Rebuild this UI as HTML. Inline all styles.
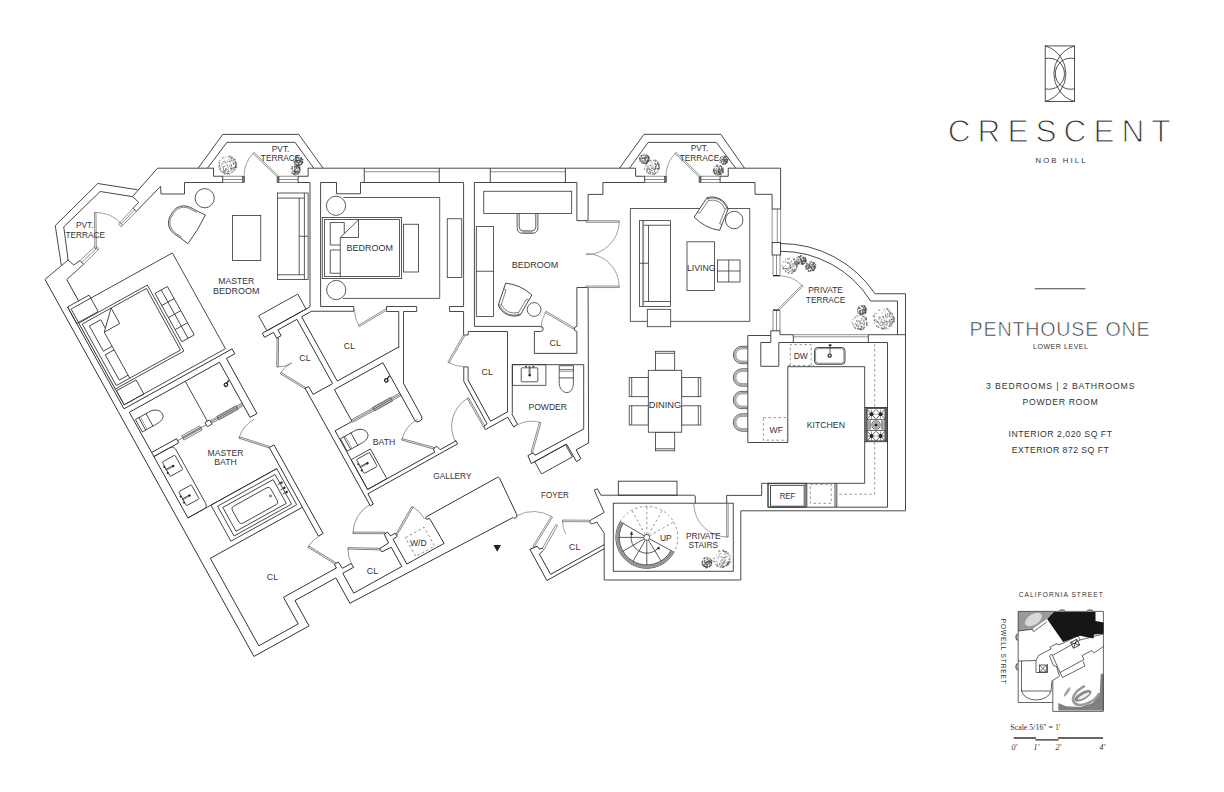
<!DOCTYPE html>
<html><head><meta charset="utf-8"><title>Crescent Nob Hill - Penthouse One</title>
<style>
html,body{margin:0;padding:0;background:#fff}
body{width:1224px;height:792px;overflow:hidden;position:relative;font-family:"Liberation Sans",sans-serif}
svg{position:absolute;left:0;top:0;display:block}
.w{fill:none;stroke:#303030;stroke-width:.88;stroke-linejoin:miter}
.wf{fill:#fff;stroke:#303030;stroke-width:.88}
.f{fill:none;stroke:#333;stroke-width:.8}
.ff{fill:#fff;stroke:#333;stroke-width:.8}
.n{fill:none;stroke:#444;stroke-width:.6}
.a{fill:none;stroke:#555;stroke-width:.55}
.d{fill:#fff;stroke:#444;stroke-width:.6}
.ds{fill:none;stroke:#777;stroke-width:.75;stroke-dasharray:2.6 2.4}
.k{fill:#222;stroke:none}
.t{font-family:"Liberation Sans",sans-serif;fill:#333}
.ts{font-family:"Liberation Serif",serif;fill:#333}
.tr{fill:#777;stroke:none}
</style></head><body>
<svg width="1224" height="792" viewBox="0 0 1224 792">
<g id="plan">
<g transform="translate(45,279.5) rotate(-29)"><polyline class="w" points="0,0 0,431 63,431 63,402 109.7,402 109.7,431"/>
<polyline class="w" points="19,10.6 19,35"/>
<polyline class="w" points="6.4,35 6.4,151.4"/>
<rect class="f" x="8.5" y="38.5" width="115.8" height="109.5"/>
<rect class="f" x="6.4" y="35" width="24.6" height="18.8"/>
<rect class="f" x="8.5" y="132" width="22.5" height="16"/>
<rect class="ff" x="8.4" y="54.5" width="78.4" height="75.4"/>
<rect class="f" x="11" y="57" width="73.3" height="70.4"/>
<polyline class="f" points="16.3,91 16.3,62.2 29.2,62.2 29.2,72"/>
<polyline class="f" points="16.3,91 26.3,91"/>
<polyline class="f" points="26.3,95 16.2,95 16.2,124 26.3,124"/>
<polyline class="f" points="26.3,127.4 26.3,74.8 44,74.8 44,57 26.3,74.8"/>
<rect class="ff" x="89.5" y="65.5" width="14.2" height="55.3"/>
<polyline class="f" points="96.6,65.5 96.6,120.8"/>
<polyline class="f" points="89.5,79.32 103.7,79.32"/>
<polyline class="f" points="89.5,93.14 103.7,93.14"/>
<polyline class="f" points="89.5,106.96 103.7,106.96"/>
<polyline class="w" points="6.4,151.4 130,151.4 130,157 120.4,157"/>
<polyline class="w" points="112.5,157 9.4,157"/>
<polyline class="w" points="112.5,157 112.5,220 120.4,220 120.4,157"/>
<polyline class="w" points="9.4,157 9.4,277.8"/>
<polyline class="w" points="9.4,324 9.4,424"/>
<polyline class="w" points="9.4,203 37.9,203 37.9,207.7 9.4,207.7"/>
<polyline class="n" points="37.9,205.3 70.6,205.3"/>
<rect class="n" x="43.7" y="203" width="20.7" height="4.8"/>
<polyline class="n" points="43.7,204.6 64.4,204.6"/>
<polyline class="n" points="43.7,206.2 64.4,206.2"/>
<rect class="f" x="70.6" y="202.6" width="5.4" height="4.9"/>
<polyline class="f" points="73.3,157 73.3,202.6"/>
<polyline class="n" points="76,203.7 112.5,203.7"/>
<polyline class="n" points="76,205.1 112.5,205.1"/>
<polyline class="n" points="76,206.5 112.5,206.5"/>
<rect class="n" x="84" y="203" width="22" height="4.2"/>
<polyline class="n" points="84,205.05 106,205.05"/>
<circle cx="107.2" cy="179.7" r="1.7" fill="#fff" stroke="#222" stroke-width="1.3"/><path d="M108.6,178.8 L112,177.3" stroke="#222" stroke-width="1.2" fill="none"/>
<rect class="ff" x="11.2" y="166.3" width="5.8" height="14.2"/>
<polyline class="f" points="15.1,166.3 15.1,180.5"/>
<path class="ff" d="M17.0,166.3 L26.2,166.3 C33.2,165.8 37.599999999999994,169.9 37.599999999999994,174.4 C37.599999999999994,178.4 33.2,180.70000000000002 26.2,180.5 L17.0,180.5"/>
<polyline class="f" points="23.3,166.3 23.3,180.5"/>
<path class="f" d="M9.4,207.6 L28,207.6 Q32,207.6 32,211.6 L32,273.8 Q32,277.8 28,277.8 L9.4,277.8"/>
<polyline class="f" points="9.4,277.8 111,277.8"/>
<rect class="f" x="14" y="216.5" width="14.5" height="16.5" rx="1"/>
<polyline class="f" points="13,224.75 21.75,224.75"/>
<polyline class="n" points="13,225.75 21.75,225.75"/>
<circle class="k" cx="21.75" cy="225.25" r="1.2"/>
<circle class="k" cx="13.5" cy="221.75" r="1"/>
<circle class="k" cx="13.5" cy="228.75" r="1"/>
<rect class="f" x="14" y="250.5" width="14.5" height="16" rx="1"/>
<polyline class="f" points="13,258.5 21.75,258.5"/>
<polyline class="n" points="13,259.5 21.75,259.5"/>
<circle class="k" cx="21.75" cy="259" r="1.2"/>
<circle class="k" cx="13.5" cy="255.5" r="1"/>
<circle class="k" cx="13.5" cy="262.5" r="1"/>
<rect class="f" x="35.7" y="277.8" width="75.3" height="41.2"/>
<rect class="f" x="41" y="282" width="65.7" height="34"/>
<rect class="f" x="45" y="285.6" width="57.5" height="27.2"/>
<rect class="f" x="52" y="289.7" width="44" height="19.3" rx="3"/>
<circle class="f" cx="92.3" cy="298.6" r="1"/>
<circle class="k" cx="108.4" cy="292.3" r="1.2"/>
<polyline class="f" points="104,292.3 108,292.3"/>
<circle class="k" cx="108.4" cy="298.2" r="1.2"/>
<polyline class="f" points="104,298.2 108,298.2"/>
<circle class="k" cx="108.4" cy="303" r="1.2"/>
<polyline class="f" points="104,303 108,303"/>
<polyline class="w" points="114.7,357 114.7,255.7 120.1,255.7 120.1,357 114.7,357"/>
<path class="a" d="M93.2,232.3 A31.77,31.77 0 0 1 114.9,223.73"/>
<polygon class="d" points="115.45,254.99 93.75,231.79 92.65,232.81 114.35,256.01"/>
<polyline class="w" points="9.4,324 114.7,324"/>
<polyline class="w" points="115,389.3 115,393.6 54.5,393.6 54.5,424 9.4,424"/>
<polyline class="w" points="115,389.3 119.5,389.3 120.1,396.8 129.9,396.8 130.6,401.3 118,401.3 118,424 173,424 173,402 162.6,401.6 162.1,397.6 172.7,397 173.3,387.4 177.2,387 177.8,391.7 183.2,391.7 183.6,395.4 178.5,396 178.5,424.3 221.2,424.3 220.5,396.3"/>
<path class="a" d="M100.8,361.3 A32.15,32.15 0 0 1 116.6,357.15"/>
<polygon class="d" points="117.25,388.93 101.45,360.93 100.15,361.67 115.95,389.67"/>
<path class="a" d="M134.6,382 A32,32 0 0 0 130.2,398.2"/>
<polygon class="d" points="162.58,397.55 134.98,381.35 134.22,382.65 161.82,398.85"/>
<path class="a" d="M146.6,370.9 A32.1,32.1 0 0 1 174.6,354.5"/>
<polygon class="d" points="174.97,385.95 146.97,370.25 146.23,371.55 174.23,387.25"/>
<path class="a" d="M211.3,376.9 A31.9,31.9 0 0 1 215.9,393.4"/>
<polygon class="d" points="184.39,394.04 211.69,377.54 210.91,376.26 183.61,392.76"/>
<rect class="ds" x="190" y="400.5" width="21.5" height="21.5"/>
<path class="w" d="M220.5,396.3 L220.5,395.3 Q217.2,395.5 217.2,393.8 Q217.2,392.2 219.5,392.4 L299.5,392.4 Q301.3,392.4 301.2,394 L298.6,434.5 Q298.3,437.2 295.5,436.6 Q293.8,436.2 294,435.1"/>
<polyline class="w" points="109.7,431 294,435.1"/>
<polyline class="w" points="218.3,152.4 164,152.4 164,157 174.2,157 174.2,163.6 179.3,163.6 179.3,157 201,157"/>
<polyline class="w" points="206.4,157 217.6,157"/>
<rect class="f" x="169.2" y="135.3" width="44.8" height="17.1"/>
<polyline class="w" points="201,157 201,230.5"/>
<polyline class="w" points="206.4,157 206.4,230.5"/>
<path class="a" d="M161,189.2 A28.97,28.97 0 0 0 175.3,192.97"/>
<polygon class="d" points="174.65,163.63 160.35,188.83 161.65,189.57 175.95,164.37"/>
<path class="a" d="M160.7,196.1 A28.89,28.89 0 0 1 175,192.31"/>
<polygon class="d" points="175.65,220.83 161.35,195.73 160.05,196.47 174.35,221.57"/>
<polyline class="w" points="174.8,355.6 174.8,221 178.7,221.6 178.8,230.5 201,230.5"/>
<polyline class="w" points="206.4,230.5 276.6,230.5"/>
<polyline class="w" points="174.8,355.6 178.3,355.6 178.5,344"/>
<polyline class="w" points="180.4,273 199.7,273 199.7,236.6 255.2,236.6 255.2,303"/>
<path class="w" d="M255.2,303 Q255.4,305.6 259,305.6 Q262.8,305.6 263,303 L263.2,264.4"/>
<polyline class="n" points="199.7,271.3 255.2,271.3"/>
<polyline class="n" points="199.7,272.7 255.2,272.7"/>
<polyline class="n" points="199.7,274.1 255.2,274.1"/>
<rect class="n" x="224.5" y="270.6" width="20.5" height="4.2"/>
<polyline class="n" points="224.5,272.7 245,272.7"/>
<circle cx="249.6" cy="253.7" r="1.7" fill="#fff" stroke="#222" stroke-width="1.3"/><path d="M251,252.8 L254.6,251.3" stroke="#222" stroke-width="1.2" fill="none"/>
<polyline class="w" points="180.4,273 180.4,340 257.2,340 257.4,336.2 261.9,335.9 263,340.4 280,340.4 281.2,339.6 281.2,343.8 178.6,344"/>
<rect class="ff" x="181.1" y="282.5" width="5.8" height="14.2"/>
<polyline class="f" points="185,282.5 185,296.7"/>
<path class="ff" d="M186.9,282.5 L196.1,282.5 C203.1,282.0 207.5,286.1 207.5,290.6 C207.5,294.6 203.1,296.90000000000003 196.1,296.70000000000005 L186.9,296.70000000000005"/>
<polyline class="f" points="193.2,282.5 193.2,296.7"/>
<rect class="f" x="180.4" y="306" width="22" height="34"/>
<rect class="f" x="185" y="308.5" width="15" height="16" rx="1"/>
<polyline class="f" points="184,316.5 193,316.5"/>
<polyline class="n" points="184,317.5 193,317.5"/>
<circle class="k" cx="193" cy="317" r="1.2"/>
<circle class="k" cx="184.5" cy="313.5" r="1"/>
<circle class="k" cx="184.5" cy="320.5" r="1"/>
<path class="a" d="M234.6,312.8 A33.66,33.66 0 0 1 258.6,302.74"/>
<polygon class="d" points="259.13,335.87 235.13,312.27 234.07,313.33 258.07,336.93"/>
<path class="a" d="M312.4,308.8 A32.5,32.5 0 0 0 280.4,341.3"/>
<polygon class="d" points="313.65,341.29 313.15,308.79 311.65,308.81 312.15,341.31"/>
<polyline class="w" points="316.9,292 316.7,340.5 312.4,341.4 312.4,344.8 337.9,344.8 338.4,356.3 343.1,355.6 343.2,344.2 343.8,343.6"/>
<polyline class="w" points="321.3,293 321,340 340.4,340"/>
<polyline class="w" points="398.6,391.9 343.5,391.3 343,388.1 337,388.2 336,396.7 376.3,396.8 376.6,417 381.8,416.5 382,406.5 396.2,406.5"/>
<rect class="f" x="340" y="396.8" width="35.2" height="14"/>
<polyline class="w" points="360.55,503 299.3,503 299.3,479.8 304.4,478.7"/>
<polyline class="w" points="358.55,506.6 293,506.6 293.3,471 301.2,472 301.6,475.4 305.2,476.2"/></g>
<polyline class="w" points="61.25,265 55.25,225.6 97.75,183.5 137.5,189.75"/>
<polyline class="w" points="68.1,260 63.75,226.9 100.2,191.5 132.5,196.6"/>
<polyline class="w" points="45,279.4 68.1,260 73.75,265 80,260.6"/>
<polyline class="w" points="83.5,264.4 66.9,279.4"/>
<polyline class="w" points="80,260.6 83.5,264.4"/>
<polyline class="n" points="80,260.6 94.4,247"/>
<polyline class="n" points="81.75,262.5 96.2,248.6"/>
<polyline class="n" points="83.5,264.4 98.1,250"/>
<polygon class="n" points="94.4,247 98.1,250 98.6,248.4 95.6,245.8"/>
<path class="a" d="M95.2,212.5 A36,36 0 0 1 121.11,223.09"/>
<polygon class="d" points="96.35,248.49 95.95,212.49 94.45,212.51 94.85,248.51"/>
<polygon class="n" points="120,222.5 122.5,225.6 121,226.8 118.6,223.8"/>
<polyline class="n" points="120,222.5 133.1,208.1"/>
<polyline class="n" points="121.25,224 134.7,209.85"/>
<polyline class="n" points="122.5,225.6 136.25,211.6"/>
<polyline class="w" points="132.5,196.6 138.75,202.25 133.1,208.1 136.25,211.6 160.6,186.25 161,194 184.5,194 184.5,182.5 223,182.5"/>
<polyline class="w" points="132.5,196.6 157.5,168.2 213.5,168.2 213.5,176.25 223,176.25"/>
<polyline class="w" points="619.5,168.2 644,134.3 720.75,134.3 744.5,168.2"/>
<polyline class="w" points="629.5,168.2 648.2,142.4 716.3,142.4 735.75,168.2"/>
<polyline class="w" points="644.7,176.25 644.7,182.5"/>
<polyline class="n" points="644.7,176.25 664.5,176.25"/>
<polyline class="n" points="644.7,179.5 664.5,179.5"/>
<polyline class="n" points="644.7,182.5 664.5,182.5"/>
<rect x="664.5" y="176.25" width="1.9" height="6.25" fill="#777" stroke="#333" stroke-width=".6"/>
<rect x="699.1" y="176.25" width="1.9" height="6.25" fill="#777" stroke="#333" stroke-width=".6"/>
<polyline class="n" points="701,176.25 720.1,176.25"/>
<polyline class="n" points="701,179.5 720.1,179.5"/>
<polyline class="n" points="701,182.5 720.1,182.5"/>
<polyline class="w" points="720.1,176.25 720.1,182.5"/>
<path class="a" d="M675.5,152.9 A33.95,33.95 0 0 0 665.95,176.5"/>
<polygon class="d" points="700.42,175.96 676.02,152.36 674.98,153.44 699.38,177.04"/>
<polyline class="w" points="198.1,168.2 222.75,134.4 298.75,134.4 323.1,168.2"/>
<polyline class="w" points="207.5,168.2 227,142.3 295,142.3 313.75,168.2"/>
<polyline class="w" points="222.7,176.25 222.7,182.5"/>
<polyline class="n" points="222.7,176.25 242.5,176.25"/>
<polyline class="n" points="222.7,179.5 242.5,179.5"/>
<polyline class="n" points="222.7,182.5 242.5,182.5"/>
<rect x="242.5" y="176.25" width="1.9" height="6.25" fill="#777" stroke="#333" stroke-width=".6"/>
<rect x="277.1" y="176.25" width="1.9" height="6.25" fill="#777" stroke="#333" stroke-width=".6"/>
<polyline class="n" points="279,176.25 298.1,176.25"/>
<polyline class="n" points="279,179.5 298.1,179.5"/>
<polyline class="n" points="279,182.5 298.1,182.5"/>
<polyline class="w" points="298.1,176.25 298.1,182.5"/>
<path class="a" d="M253.5,152.9 A33.95,33.95 0 0 0 243.95,176.5"/>
<polygon class="d" points="278.42,175.96 254.02,152.36 252.98,153.44 277.38,177.04"/>
<polyline class="w" points="298.1,176.25 308.1,176.25 308.1,168.2 635.6,168.2 635.6,176.25 644.7,176.25"/>
<polyline class="w" points="298.1,182.5 310,182.5 310,306.9"/>
<polyline class="w" points="320.6,306.5 320.6,182.5 336.5,182.5 336.5,193.75 360.5,193.75 360.5,182.5 463.6,182.5 463.6,306.5 449.6,306.5 449.6,311.5 463.6,311.5 463.6,335 468.2,335 468.2,331.5 507.5,331.5 507.5,412"/>
<polyline class="w" points="364.25,168.2 364.25,182.5"/>
<polyline class="w" points="439.25,168.2 439.25,182.5"/>
<polyline class="n" points="364.25,171.75 439.25,171.75"/>
<polyline class="w" points="490.25,168.2 490.25,182.5"/>
<polyline class="w" points="565.4,168.2 565.4,182.5"/>
<polyline class="n" points="490.25,171.75 565.4,171.75"/>
<polyline class="w" points="540.6,326.4 474.4,326.4 474.4,182.5 576.9,182.5 576.9,220.6 588.1,220.6 588.1,194.4 602.9,194.4 602.9,182.5 644.7,182.5"/>
<path class="w" d="M540.6,326.4 Q543.2,326.4 543.2,329 Q543.2,331.5 540.6,331.5 L534.4,331.5 L534.4,353.4 L576.9,353.4 L576.9,331.3"/>
<path class="w" d="M576.9,287.5 L576.9,326.4 Q574.2,326.6 574.2,329 Q574.2,331.3 576.9,331.3"/>
<polyline class="w" points="576.9,287.5 588.1,287.5"/>
<polyline class="w" points="588.1,287.5 588.6,443"/>
<polyline class="w" points="320.6,306.5 353.75,306.5 353.75,311.25 311.25,311.25"/>
<polyline class="w" points="398.75,311.5 386.5,311.5 386.5,306.5 416.7,306.5 416.7,311.5 403.5,311.5"/>
<polyline class="w" points="398.75,311.5 398.75,348.1"/>
<polyline class="w" points="403.5,311.5 403.5,383.1"/>
<path class="a" d="M359,325.9 A31.85,31.85 0 0 1 354.45,309.5"/>
<polygon class="d" points="385.91,308.86 358.61,325.26 359.39,326.54 386.69,310.14"/>
<path class="a" d="M619.2,221.5 A33.2,33.2 0 0 1 586,254.7"/>
<polygon class="d" points="586,222.25 619.2,222.25 619.2,220.75 586,220.75"/>
<path class="a" d="M619.2,286.8 A33.2,33.2 0 0 0 586,253.6"/>
<polygon class="d" points="586,287.55 619.2,287.55 619.2,286.05 586,286.05"/>
<path class="a" d="M545.6,311.9 A32.45,32.45 0 0 0 541.15,328.3"/>
<polygon class="d" points="573.98,327.65 545.98,311.25 545.22,312.55 573.22,328.95"/>
<polyline class="w" points="720.1,176.25 728.25,176.25 728.25,168.2 780.6,168.2 780.6,209"/>
<polyline class="w" points="720.1,182.5 755,182.5 755,194.3 772.1,194.3 772.1,209 780.6,209"/>
<polyline class="n" points="772.1,209 772.1,242.5"/>
<polyline class="n" points="777.3,209 777.3,242.5"/>
<polyline class="n" points="780.6,209 780.6,242.5"/>
<rect class="w" x="772.1" y="242.5" width="8.5" height="12.5"/>
<polyline class="n" points="773,255 773,275"/>
<polyline class="n" points="776.5,255 776.5,275"/>
<polyline class="n" points="780,255 780,275"/>
<rect class="k" x="773" y="275" width="7" height="1.3"/>
<rect class="k" x="773" y="309.4" width="7" height="1.4"/>
<polyline class="n" points="773,310.8 773,330.8"/>
<polyline class="n" points="776.5,310.8 776.5,330.8"/>
<polyline class="n" points="780,310.8 780,330.8"/>
<path class="a" d="M802.5,285.6 A33.87,33.87 0 0 0 778.6,275.73"/>
<polygon class="d" points="779.13,310.13 803.03,286.13 801.97,285.07 778.07,309.07"/>
<path class="w" d="M780.6,243.5 A114,114 0 0 1 875,293.75 L905.5,293.75 L905.5,510.8 L740.8,510.8 L740.8,580 L604.2,580 L604.2,533.3"/>
<path class="w" d="M780.6,251.25 A106.3,106.3 0 0 1 870.6,301 L897.5,301 L897.5,334.7"/>
<polyline class="w" points="747.8,442.5 747.8,335.5 770.8,335.5 770.8,330.8 780,330.8 780,334.7 793.3,334.7"/>
<polyline class="w" points="770.8,335.5 770.8,342.5 760.8,342.5 760.8,366.3 778.8,366.3 778.8,342.5 887.5,342.5 887.5,507.2 768,507.2 768,483.3"/>
<polyline class="w" points="793.3,334.7 793.3,342.5"/>
<polyline class="w" points="868.3,334.7 868.3,342.5"/>
<polyline class="n" points="793.3,334.7 868.3,334.7"/>
<polyline class="n" points="793.3,336.8 868.3,336.8"/>
<polyline class="w" points="868.3,334.7 905.5,334.7"/>
<polyline class="w" points="747.8,442.5 787.8,442.5 787.8,366.7 864.7,366.7 864.7,407.5"/>
<polyline class="w" points="864.7,441.7 864.7,483.3 761.7,483.3 761.7,495.4 728.3,495.4"/>
<rect class="w" x="613.3" y="503.2" width="119.95" height="68.05"/>
<path class="w" d="M600.8,495.2 L693.5,495.2 Q695.3,495.2 695.3,497 L695.3,503.2"/>
<polyline class="w" points="728.3,495.4 726.7,495.4 726.7,503.2"/>
<rect class="w" x="618.3" y="481.2" width="58.7" height="14"/>
<path class="a" d="M727.4,537 A33.6,33.6 0 0 1 693.8,503.4"/>
<polygon class="d" points="726.65,503.4 726.65,537 728.15,537 728.15,503.4"/>
<polyline class="w" points="590.8,520 604.2,512.5 594.2,490 597.5,488.8 600.8,495.2"/>
<path class="w" d="M590.8,520 Q588.9,521.2 590,522.9 Q591.2,524.4 592.9,523.6 L596.7,522 L604.2,533.3"/>
<polyline class="w" points="463.75,366.9 468.1,366.9"/>
<polyline class="w" points="463.75,366.9 463.75,381.25"/>
<polyline class="w" points="468.1,366.9 468.1,380"/>
<path class="a" d="M448.5,362.5 A31.22,31.22 0 0 0 464,366.62"/>
<polygon class="d" points="463.35,335.03 447.85,362.13 449.15,362.87 464.65,335.77"/>
<polyline class="w" points="512.3,413.3 512.3,364.7 583.7,364.7 583.7,429.2"/>
<rect class="f" x="512.3" y="364.7" width="33.6" height="20.6"/>
<rect class="f" x="521.2" y="367.8" width="16.6" height="14" rx="0.8"/>
<polyline class="f" points="529.2,366 529.2,375"/>
<polyline class="n" points="530.2,366 530.2,375"/>
<circle class="k" cx="529.7" cy="375.2" r="1.2"/>
<circle class="k" cx="526" cy="366.6" r="0.9"/>
<circle class="k" cx="533.4" cy="366.6" r="0.9"/>
<rect class="ff" x="559.2" y="365.8" width="14.2" height="5.8"/>
<polyline class="f" points="559.2,369.7 573.4,369.7"/>
<path class="ff" d="M559.2,371.6 L559.2,381 C558.7,388 562.5,392.6 566.8,392.6 C571,392.6 573.9,388 573.4,381 L573.4,371.6"/>
<polyline class="f" points="559.2,377.9 573.4,377.9"/>
<path class="a" d="M540.2,422.4 A31.06,31.06 0 0 0 517.13,424.92"/>
<polygon class="d" points="532.52,452.5 540.92,422.6 539.48,422.2 531.08,452.1"/>
<path class="a" d="M551.9,516.7 A35.19,35.19 0 0 0 517.1,515.56"/>
<polygon class="d" points="534.14,547.09 552.54,517.09 551.26,516.31 532.86,546.31"/>
<path class="a" d="M562.5,520.8 A27.7,27.7 0 0 0 565.84,534.18"/>
<polygon class="d" points="590.21,520.25 562.51,520.05 562.49,521.55 590.19,521.75"/>
<polygon class="d" points="543.99,549.71 557.55,525.5 555.81,524.53 542.25,548.74"/>
<polygon class="k" points="493.4,545 501,545 497.2,551.8"/>
<polyline class="f" points="343.5,197.5 439.7,197.5 439.7,298.4 343,298.4"/>
<circle class="ff" cx="336" cy="205.75" r="9.6"/>
<circle class="ff" cx="336.25" cy="290" r="9.6"/>
<rect class="ff" x="322.25" y="217.5" width="79.35" height="61.1"/>
<rect class="f" x="324.4" y="219.6" width="75.1" height="56.9"/>
<polyline class="f" points="330.25,245 330.25,222.5 344.25,222.5 344.25,233.7"/>
<polyline class="f" points="330.25,245 340.25,245"/>
<polyline class="f" points="340.25,250 330.25,250 330.25,273.25 340.25,273.25"/>
<polyline class="f" points="340.25,277.2 340.25,237.5 358.5,237.5 358.5,220 340.25,237.5"/>
<rect class="f" x="403.5" y="224.25" width="15" height="47.75"/>
<rect class="f" x="447.25" y="218.75" width="14.5" height="58.75"/>
<rect class="f" x="483.75" y="191.25" width="87.95" height="22.15"/>
<path class="f" d="M517.1,213.4 L517.1,227.5 Q517.1,233.3 523,233.3 L532,233.3 Q537.9,233.3 537.9,227.5 L537.9,213.4"/>
<path class="f" d="M519.2,213.4 L519.2,227 Q519.2,230.9 523.2,230.9 L531.8,230.9 Q535.8,230.9 535.8,227 L535.8,213.4"/>
<polyline class="n" points="522,232.1 533,232.1"/>
<rect class="f" x="476.3" y="226.5" width="17.1" height="89.9"/>
<polyline class="f" points="476.3,271.25 493.4,271.25"/>
<circle class="f" cx="534.1" cy="309.5" r="6.9"/>
<rect class="f" x="277.5" y="193" width="30.6" height="86.4"/>
<polyline class="f" points="277.5,198.1 304.4,198.1"/>
<polyline class="f" points="277.5,274.75 304.4,274.75"/>
<polyline class="f" points="299.2,198.1 299.2,274.75"/>
<polyline class="f" points="304.4,193 304.4,279.4"/>
<polyline class="f" points="299.2,236.25 308.1,236.25"/>
<rect class="f" x="232.5" y="215.5" width="28.25" height="45"/>
<circle class="f" cx="204.7" cy="198.2" r="9.6"/>
<rect class="f" x="630.3" y="208.6" width="119.5" height="112.7"/>
<rect class="f" x="687" y="241.8" width="27.6" height="48.7"/>
<rect class="f" x="717.5" y="260" width="22.5" height="22"/>
<polyline class="f" points="728.75,260 728.75,282"/>
<polyline class="f" points="717.5,271 740,271"/>
<circle class="ff" cx="734.2" cy="220" r="8.75"/>
<rect class="f" x="655.5" y="351.3" width="19.2" height="19"/>
<polyline class="f" points="655.5,353.3 674.7,353.3"/>
<rect class="f" x="655.5" y="432.2" width="19.2" height="18.6"/>
<polyline class="f" points="655.5,448.8 674.7,448.8"/>
<rect class="f" x="629.2" y="377.5" width="19.1" height="19.2"/>
<polyline class="f" points="631.7,377.5 631.7,396.7"/>
<rect class="f" x="681.7" y="377.5" width="19.1" height="19.2"/>
<polyline class="f" points="698.3,377.5 698.3,396.7"/>
<rect class="f" x="629.2" y="405.8" width="19.1" height="19.2"/>
<polyline class="f" points="631.7,405.8 631.7,425"/>
<rect class="f" x="681.7" y="405.8" width="19.1" height="19.2"/>
<polyline class="f" points="698.3,405.8 698.3,425"/>
<rect class="ff" x="648.3" y="370.3" width="33.4" height="61.9"/>
<path class="f" d="M747.8,346.3 L742,346.3 A8.7,8.7 0 0 0 742,363.7 L747.8,363.7"/>
<path class="n" d="M747.8,347.6 L742,347.6 A7.3999999999999995,7.3999999999999995 0 0 0 742,362.4 L747.8,362.4"/>
<path class="n" d="M747.8,348.8 L742,348.8 A6.199999999999999,6.199999999999999 0 0 0 742,361.2 L747.8,361.2"/>
<path class="f" d="M747.8,368.8 L742,368.8 A8.7,8.7 0 0 0 742,386.2 L747.8,386.2"/>
<path class="n" d="M747.8,370.1 L742,370.1 A7.3999999999999995,7.3999999999999995 0 0 0 742,384.9 L747.8,384.9"/>
<path class="n" d="M747.8,371.3 L742,371.3 A6.199999999999999,6.199999999999999 0 0 0 742,383.7 L747.8,383.7"/>
<path class="f" d="M747.8,391.3 L742,391.3 A8.7,8.7 0 0 0 742,408.7 L747.8,408.7"/>
<path class="n" d="M747.8,392.6 L742,392.6 A7.3999999999999995,7.3999999999999995 0 0 0 742,407.4 L747.8,407.4"/>
<path class="n" d="M747.8,393.8 L742,393.8 A6.199999999999999,6.199999999999999 0 0 0 742,406.2 L747.8,406.2"/>
<path class="f" d="M747.8,413.8 L742,413.8 A8.7,8.7 0 0 0 742,431.2 L747.8,431.2"/>
<path class="n" d="M747.8,415.1 L742,415.1 A7.3999999999999995,7.3999999999999995 0 0 0 742,429.9 L747.8,429.9"/>
<path class="n" d="M747.8,416.3 L742,416.3 A6.199999999999999,6.199999999999999 0 0 0 742,428.7 L747.8,428.7"/>
<rect class="w" x="814.5" y="347.5" width="30.5" height="16.8" rx="3.2"/>
<rect class="n" x="815.6" y="348.6" width="28.3" height="14.6" rx="2.4"/>
<polyline class="f" points="830,345.3 830,354"/>
<rect class="k" x="828.8" y="344.3" width="2.6" height="1.7"/>
<circle cx="829.7" cy="355.6" r="1.6" fill="#fff" stroke="#222" stroke-width="1.2"/>
<path class="ds" d="M790.3,365.5 L790.3,344.6 L811.2,344.6 L811.2,365.5 M787.8,365.5 L814,365.5"/>
<path class="ds" d="M874.7,344 L874.7,407 M874.7,442 L874.7,494.2 L838.3,494.2"/>
<rect class="ds" x="763.4" y="417.6" width="24" height="22.6"/>
<rect class="ds" x="810.3" y="484.4" width="20.9" height="18.9"/>
<rect class="wf" x="864.7" y="407.5" width="22.8" height="34.2"/>
<polyline class="f" points="865.7,407.5 865.7,441.7"/>
<polyline class="f" points="866.8,407.5 866.8,441.7"/>
<polyline class="f" points="885.3,407.5 885.3,441.7"/>
<polyline class="f" points="886.5,407.5 886.5,441.7"/>
<rect class="f" x="867" y="408.6" width="18.1" height="32.2"/>
<polyline class="f" points="867.3,409.6 875.7,418.8"/>
<polyline class="f" points="867.3,418.8 875.7,409.6"/>
<polyline class="n" points="871.5,409.6 871.5,418.8"/>
<polyline class="n" points="867.3,414.2 875.7,414.2"/>
<circle class="k" cx="871.5" cy="414.2" r="1.9"/>
<polyline class="f" points="876.4,409.6 884.8,418.8"/>
<polyline class="f" points="876.4,418.8 884.8,409.6"/>
<polyline class="n" points="880.6,409.6 880.6,418.8"/>
<polyline class="n" points="876.4,414.2 884.8,414.2"/>
<circle class="k" cx="880.6" cy="414.2" r="1.9"/>
<polyline class="f" points="867.3,431.4 875.7,440.6"/>
<polyline class="f" points="867.3,440.6 875.7,431.4"/>
<polyline class="n" points="871.5,431.4 871.5,440.6"/>
<polyline class="n" points="867.3,436 875.7,436"/>
<circle class="k" cx="871.5" cy="436" r="1.9"/>
<polyline class="f" points="876.4,431.4 884.8,440.6"/>
<polyline class="f" points="876.4,440.6 884.8,431.4"/>
<polyline class="n" points="880.6,431.4 880.6,440.6"/>
<polyline class="n" points="876.4,436 884.8,436"/>
<circle class="k" cx="880.6" cy="436" r="1.9"/>
<circle class="f" cx="876" cy="425" r="4.1"/>
<circle class="n" cx="876" cy="425" r="2.8"/>
<circle class="k" cx="876" cy="425" r="1.7"/>
<polyline class="n" points="868.2,420.5 868.2,429.5"/>
<polyline class="n" points="869.4,420.5 869.4,429.5"/>
<polyline class="n" points="870.6,420.5 870.6,429.5"/>
<polyline class="n" points="881.4,420.5 881.4,429.5"/>
<polyline class="n" points="882.6,420.5 882.6,429.5"/>
<polyline class="n" points="883.8,420.5 883.8,429.5"/>
<polyline class="f" points="867,419.6 885.1,419.6"/>
<polyline class="f" points="867,430.4 885.1,430.4"/>
<rect class="f" x="768" y="483.3" width="37.8" height="23.9"/>
<rect class="w" x="770.6" y="485.3" width="33.6" height="20.9"/>
<polyline class="n" points="768,485.3 770.6,483.3"/>
<polyline class="n" points="805.8,485.3 804.2,483.3"/>
<polyline class="w" points="806.8,483.3 806.8,507.2"/>
<polyline class="w" points="835,483.3 835,507.2"/>
<polyline class="w" points="836.8,483.3 836.8,507.2"/>
<polyline class="f" points="649.44,538.83 674.04,552.19"/>
<polyline class="f" points="648.35,539.97 662.77,563.97"/>
<polyline class="f" points="646.8,540.4 646.8,568.4"/>
<polyline class="f" points="645.3,540 631.3,564.25"/>
<polyline class="f" points="644.2,538.9 619.95,552.9"/>
<polyline class="f" points="643.8,537.4 615.8,537.4"/>
<polyline class="f" points="644.22,535.87 620.14,521.57"/>
<polyline class="ds" points="645.35,534.78 631.77,510.29"/>
<polyline class="ds" points="646.8,534.4 646.8,506.4"/>
<polyline class="ds" points="648.3,534.8 662.3,510.55"/>
<polyline class="ds" points="649.4,535.9 673.65,521.9"/>
<path class="f" d="M674.04,552.19 A31,31 0 1 1 620.14,521.57"/>
<path d="M672.55,551.38 A29.3,29.3 0 1 1 621.61,522.44" fill="none" stroke="#969696" stroke-width="3"/>
<path class="f" d="M671.06,550.57 A27.6,27.6 0 1 1 623.07,523.31"/>
<path class="ds" d="M620.14,521.57 A31,31 0 0 1 674.04,552.19"/>
<circle class="ff" cx="646.8" cy="537.4" r="3"/>
<path class="f" d="M658.36,548.18 A15.8,15.8 0 0 1 631.54,533.31"/>
<polygon class="k" points="629.94,534.31 632.84,534.91 632.04,530.71"/>
<polygon class="k" points="656.46,548.38 659.26,546.18 659.76,549.78"/>
<rect class="ff" x="639.6" y="220.6" width="30.8" height="85.8"/>
<polyline class="n" points="642.7,220.6 642.7,306.4"/>
<polyline class="n" points="643.6,220.6 643.6,306.4"/>
<polyline class="f" points="648.5,225.25 648.5,301.5"/>
<polyline class="f" points="643.6,225.25 670.4,225.25"/>
<polyline class="f" points="643.6,301.5 670.4,301.5"/>
<polyline class="f" points="639.6,263.25 648.5,263.25"/>
<rect class="ff" x="647.3" y="309.3" width="23.4" height="17.4"/>
<g transform="translate(706.9,223.75) rotate(27.6)"><path class="ff" d="M-14.35,0 L-12,-23 A16.9,16.9 0 0 1 12,-23 L14.35,0 Q0,4.8 -14.35,0 Z"/><path class="n" d="M-10.6,-23 A15.6,15.6 0 0 1 10.6,-23"/><path class="n" d="M-9.2,-21.4 A13.6,13.6 0 0 1 9.2,-21.4"/><path class="n" d="M-12,-23 L-9.4,-21.8 L-11.2,-6 L-13.8,-6.3 M12,-23 L9.4,-21.8 L11.2,-6 L13.8,-6.3"/></g>
<g transform="translate(518.75,289.05) rotate(204.3)"><path class="ff" d="M-14.35,0 L-12,-23 A16.9,16.9 0 0 1 12,-23 L14.35,0 Q0,4.8 -14.35,0 Z"/><path class="n" d="M-10.6,-23 A15.6,15.6 0 0 1 10.6,-23"/><path class="n" d="M-9.2,-21.4 A13.6,13.6 0 0 1 9.2,-21.4"/><path class="n" d="M-12,-23 L-9.4,-21.8 L-11.2,-6 L-13.8,-6.3 M12,-23 L9.4,-21.8 L11.2,-6 L13.8,-6.3"/></g>
<g transform="translate(184.1,221.7) rotate(31.4)"><path class="ff" d="M14.7,-16.8 L6,-15.9 L0,-15.6 C-9.5,-15.4 -14.8,-9.5 -14.8,-1.5 L-14.8,1.5 C-14.8,9.5 -9.5,15.4 0,15.6 L6,15.9 L14.7,16.8 Q16.4,0 14.7,-16.8 Z"/><path class="n" d="M6.2,-14.5 L0,-14.2 C-8.6,-14 -13.4,-8.6 -13.4,-1.5 L-13.4,1.5 C-13.4,8.6 -8.6,14 0,14.2 L6.2,14.5"/></g>
<path d="M219.3,165.2h0M229.6,156.4h0M231.5,158.3h0M236.6,165.1h0M228.7,173.9h0M236.7,166.8h0M235.6,161.7h0M220.3,168.8h0M219.9,168.1h0M228.5,173.1h0M225.4,173.3h0M235.6,164.6h0M223.5,171.9h0M235.8,161.5h0M223.1,156.9h0M220.2,160.4h0M229.9,157.2h0M221.2,171.3h0M229.0,156.5h0M219.1,165.5h0M220.6,170.5h0M236.1,164.0h0M233.1,158.3h0M235.8,162.4h0M226.5,173.5h0M236.9,165.3h0M234.4,159.0h0M235.5,167.9h0M230.2,173.3h0M222.1,171.8h0M235.9,166.5h0M232.0,158.1h0M235.4,165.8h0M227.5,174.1h0M222.5,172.3h0M219.6,163.6h0M225.5,157.0h0M219.3,166.4h0M220.1,169.0h0M233.9,160.3h0M235.3,165.9h0M232.3,172.6h0M218.9,162.5h0M230.3,156.0h0M222.6,158.4h0M223.7,172.9h0M224.3,173.7h0M235.2,161.9h0M227.4,173.5h0M236.5,167.2h0M219.0,161.0h0M236.6,163.5h0M221.3,171.0h0M223.8,157.8h0M233.9,170.0h0M219.2,165.0h0M235.0,159.5h0M222.7,172.7h0M233.7,159.4h0M236.1,164.2h0M235.3,169.6h0M229.7,174.1h0M232.3,157.6h0M225.4,173.1h0M236.0,162.5h0M219.9,162.5h0M234.5,168.5h0M231.8,157.0h0M229.3,156.3h0M228.9,173.6h0M233.9,159.8h0M218.5,167.5h0M231.8,156.9h0M235.0,169.9h0M236.5,167.3h0M219.2,169.5h0M227.9,173.1h0M234.2,160.8h0M235.5,159.9h0M219.4,166.2h0M236.1,167.2h0M224.8,174.1h0M225.4,170.1h0M228.1,167.5h0M227.1,171.8h0M227.6,169.5h0M231.7,164.6h0M225.7,169.8h0M225.3,168.8h0M227.5,166.0h0M233.1,167.7h0M225.8,171.4h0M231.3,160.6h0M229.1,159.4h0M231.4,172.4h0M231.2,157.4h0M230.9,162.3h0M235.5,166.6h0M224.5,166.4h0M223.1,168.4h0M231.5,165.6h0M222.7,162.7h0M230.6,168.7h0M229.4,161.4h0M223.6,161.6h0M226.9,164.9h0M228.0,172.2h0M228.4,170.6h0M225.0,161.7h0M228.3,168.9h0M234.4,167.4h0M223.4,170.8h0M227.1,161.9h0M235.6,163.5h0M220.6,168.1h0M230.7,168.3h0M233.6,170.7h0M231.4,168.5h0M227.5,161.0h0M224.3,166.3h0M226.7,168.5h0M223.9,162.9h0M226.4,169.9h0M233.1,170.1h0M233.5,163.7h0M233.0,171.4h0M225.1,170.8h0M222.7,164.1h0M222.3,166.7h0M231.1,165.1h0M233.4,164.5h0M224.6,173.0h0M227.2,165.2h0M230.8,161.0h0M231.0,170.0h0M221.9,166.2h0M224.8,161.0h0M233.1,163.0h0M231.2,166.9h0M223.5,169.4h0M231.0,171.3h0M230.3,158.5h0M228.2,171.5h0M231.4,159.1h0M225.1,162.6h0M231.4,169.6h0M231.0,167.8h0M232.2,168.4h0M231.1,165.8h0M234.9,163.3h0M230.0,161.0h0M233.3,168.9h0M223.3,169.0h0M229.1,161.5h0M229.0,171.2h0M235.7,167.4h0M224.2,172.1h0M233.0,161.9h0M227.9,157.0h0M235.6,165.8h0M233.9,167.4h0M235.4,166.8h0M235.0,167.1h0M229.7,166.4h0M234.0,163.7h0M223.8,170.2h0M221.3,164.1h0M223.4,167.5h0M234.9,167.6h0M235.7,167.1h0M231.3,168.9h0M232.7,160.2h0M232.6,168.2h0M229.7,165.5h0M224.7,171.6h0M223.5,167.0h0M224.5,170.4h0M234.7,163.0h0M226.1,163.0h0" fill="none" stroke="#555" stroke-width="0.72" stroke-linecap="round"/>
<path d="M302.9,159.6h0M296.3,165.9h0M293.8,158.9h0M302.9,159.7h0M297.5,165.9h0M293.8,162.2h0M301.6,158.4h0M298.4,166.1h0M301.0,164.8h0M295.6,156.7h0M293.1,161.7h0M296.6,157.0h0M297.4,166.4h0M302.4,160.1h0M296.2,165.8h0M302.3,159.4h0M299.8,166.1h0M295.5,157.8h0M301.2,158.1h0M300.9,157.5h0M301.3,158.3h0M302.8,162.3h0M295.9,157.4h0M303.1,162.1h0M297.8,165.6h0M299.8,165.3h0M302.5,162.5h0M302.3,162.3h0M297.8,156.5h0M302.5,162.2h0M301.2,157.5h0M298.7,166.0h0M301.7,164.0h0M301.0,164.4h0M295.2,161.0h0M297.7,165.9h0M300.9,161.6h0M299.5,161.9h0M299.4,162.3h0M298.5,165.9h0M297.0,157.3h0M295.1,160.8h0M297.4,161.7h0M298.2,165.2h0M298.2,163.1h0M294.8,162.0h0M298.9,164.9h0M295.2,159.7h0M295.1,160.8h0M298.4,160.1h0M300.9,159.8h0M300.4,161.1h0M297.8,160.8h0M299.3,159.2h0M297.5,161.4h0M298.8,164.3h0M297.8,162.4h0M302.0,163.4h0M296.3,160.5h0M298.1,158.2h0M299.1,162.3h0M301.8,161.9h0M295.8,160.9h0M296.8,165.4h0M297.8,164.5h0M301.3,159.4h0M301.5,163.7h0M300.8,165.0h0M295.2,157.6h0M298.3,163.7h0M294.5,162.7h0M301.3,163.6h0M297.8,165.2h0M297.1,158.4h0M296.5,161.9h0M300.6,158.9h0M294.8,161.7h0M301.6,159.8h0M301.0,160.6h0M298.7,165.5h0M301.6,161.6h0M300.9,158.7h0M302.2,161.7h0M301.5,163.9h0M299.3,165.1h0M299.3,164.6h0M296.8,160.3h0M296.0,160.4h0M299.9,160.9h0M298.1,157.6h0M296.1,164.5h0M301.2,161.9h0M299.8,164.9h0M300.7,158.2h0M296.7,162.5h0M300.4,161.5h0M294.9,164.7h0M296.5,159.3h0M300.9,159.6h0M296.6,165.3h0M301.5,163.6h0M295.1,158.3h0M296.0,161.9h0M300.2,160.7h0M295.0,164.2h0M300.2,162.5h0M296.4,161.9h0M301.9,159.2h0M301.3,159.7h0M298.1,162.6h0M295.3,164.0h0M298.4,165.4h0M295.9,163.0h0M295.2,164.9h0M299.7,165.4h0M299.5,161.6h0M294.3,162.9h0M299.1,159.5h0M296.5,159.5h0M300.2,160.2h0M298.5,162.8h0M298.0,164.2h0M298.1,163.5h0M298.5,158.4h0M299.8,158.6h0M294.4,164.2h0M296.5,164.6h0M302.6,161.0h0M295.4,162.9h0M299.4,160.7h0M301.9,163.4h0M302.1,161.5h0M299.2,163.6h0M301.1,163.3h0M301.5,162.4h0M295.9,161.5h0M296.4,161.3h0" fill="none" stroke="#4a4a4a" stroke-width="0.75" stroke-linecap="round"/>
<path d="M291.3,168.8h0M292.2,166.6h0M297.8,166.4h0M300.1,169.9h0M300.1,170.9h0M299.9,167.7h0M299.8,172.9h0M300.0,169.0h0M294.1,174.6h0M292.9,173.7h0M299.6,167.3h0M298.1,174.2h0M299.9,167.1h0M296.8,174.8h0M294.6,174.7h0M300.7,169.7h0M291.4,172.7h0M292.4,167.2h0M299.6,172.1h0M297.0,174.1h0M298.3,174.0h0M291.9,173.5h0M291.1,168.6h0M291.5,167.8h0M292.3,166.4h0M299.6,171.6h0M295.6,175.2h0M293.5,174.4h0M292.5,173.3h0M296.0,172.4h0M296.4,172.0h0M298.7,172.3h0M296.9,167.8h0M297.7,173.8h0M298.4,167.6h0M297.1,171.4h0M295.3,171.8h0M296.9,166.6h0M295.2,171.5h0M294.3,171.9h0M299.9,169.6h0M299.7,168.0h0M294.8,173.2h0M297.5,170.9h0M296.5,167.8h0M299.2,167.4h0M295.6,169.6h0M298.3,168.9h0M295.6,172.6h0M296.2,166.9h0M297.5,166.3h0M298.0,167.2h0M295.3,172.3h0M295.7,170.0h0M299.3,172.2h0M294.6,172.3h0M292.4,168.1h0M294.7,171.7h0M294.9,166.7h0M296.1,171.1h0M296.3,166.5h0M294.6,167.3h0M294.6,170.5h0M299.6,168.3h0M296.7,165.7h0M297.8,172.1h0M294.5,169.3h0M295.8,168.4h0M297.4,170.3h0M296.4,168.8h0M299.7,168.8h0M299.6,170.9h0M294.9,166.8h0M299.3,168.4h0M296.5,171.9h0M295.7,166.4h0M293.5,171.6h0M298.1,171.4h0M298.5,167.8h0M295.4,171.8h0M294.2,173.2h0M299.3,168.9h0M295.2,173.5h0M295.0,170.1h0M294.5,171.4h0M298.1,173.2h0M297.4,166.2h0M296.0,173.1h0M295.8,174.3h0M296.5,172.1h0M299.1,167.5h0M293.9,174.0h0M299.0,172.0h0M294.5,174.1h0M294.0,166.9h0M293.2,171.0h0M292.9,169.2h0M294.4,168.0h0M299.3,167.6h0M294.5,173.9h0M296.9,166.5h0M299.5,169.0h0M298.1,172.2h0M297.0,173.1h0M297.2,173.3h0M298.3,172.6h0M294.8,171.4h0M294.4,172.8h0M295.4,166.7h0M294.8,170.0h0M293.1,173.2h0M297.1,167.8h0M297.4,171.3h0M295.0,166.0h0M294.3,171.0h0M292.6,168.6h0M296.0,167.9h0M299.2,169.5h0M297.1,168.1h0M295.1,166.5h0M292.4,170.8h0M298.8,170.8h0M292.1,171.3h0" fill="none" stroke="#4a4a4a" stroke-width="0.75" stroke-linecap="round"/>
<path d="M648.1,161.5h0M648.5,160.6h0M640.1,157.8h0M648.0,161.5h0M646.2,163.5h0M648.9,161.4h0M639.6,158.6h0M648.5,161.3h0M639.7,157.3h0M639.4,158.5h0M640.1,160.8h0M646.2,154.6h0M641.5,155.7h0M639.8,159.7h0M646.2,163.7h0M641.5,155.5h0M644.4,154.2h0M648.4,156.1h0M645.1,163.1h0M644.9,163.6h0M640.2,159.9h0M649.3,157.6h0M648.9,157.8h0M648.9,157.2h0M643.1,163.6h0M647.6,162.3h0M642.0,163.3h0M646.6,162.6h0M643.3,163.3h0M639.9,161.2h0M648.6,160.3h0M647.4,162.8h0M649.1,158.4h0M640.7,161.2h0M644.5,163.5h0M639.5,158.8h0M644.7,163.3h0M647.6,155.5h0M648.4,156.9h0M647.2,160.6h0M646.0,155.4h0M643.0,155.4h0M648.8,157.6h0M649.0,157.7h0M645.2,158.3h0M642.2,154.8h0M643.3,157.5h0M648.1,157.0h0M644.7,158.7h0M647.7,161.7h0M647.4,156.0h0M645.8,163.0h0M641.4,158.3h0M643.9,158.4h0M641.1,156.1h0M644.8,156.1h0M643.3,158.5h0M643.0,162.6h0M647.6,158.1h0M648.2,160.5h0M645.4,156.0h0M646.4,162.7h0M642.8,161.5h0M643.4,154.5h0M642.1,158.1h0M640.6,159.2h0M645.7,157.0h0M648.5,158.4h0M641.6,156.4h0M641.2,160.1h0M641.9,161.9h0M645.8,159.6h0M646.3,162.5h0M642.1,157.6h0M647.5,160.8h0M646.4,162.9h0M643.7,161.2h0M643.0,157.9h0M647.7,157.5h0M647.9,161.9h0M643.1,162.4h0M640.9,161.4h0M643.6,162.9h0M644.7,159.2h0M641.6,156.3h0M641.2,155.6h0M640.9,156.1h0M644.4,160.1h0M644.6,160.4h0M646.9,162.7h0M642.3,158.5h0M645.8,159.1h0M646.3,157.3h0M646.3,161.4h0M647.4,160.1h0M644.3,163.1h0M646.9,155.9h0M642.0,160.1h0M648.8,159.3h0M645.4,160.2h0M645.0,163.0h0M643.9,155.7h0M648.7,158.7h0M648.6,157.1h0M646.6,155.1h0M647.9,159.6h0M645.9,157.1h0M646.4,157.3h0M647.8,155.9h0M641.7,162.5h0M644.5,162.3h0M647.3,161.4h0M640.3,158.6h0M644.4,158.3h0M646.4,161.3h0M642.7,160.4h0M647.1,155.8h0M645.9,161.4h0M648.5,157.0h0M641.2,161.0h0M642.7,162.6h0M642.3,158.6h0M644.6,157.3h0M646.8,162.8h0M646.3,158.0h0M640.1,158.8h0M645.9,158.5h0M645.1,157.9h0M648.3,159.5h0M645.0,160.6h0M645.3,158.2h0M646.6,155.7h0" fill="none" stroke="#4a4a4a" stroke-width="0.75" stroke-linecap="round"/>
<path d="M658.1,162.6h0M652.2,174.2h0M659.4,167.6h0M658.0,163.5h0M654.0,160.5h0M657.2,172.3h0M654.0,174.6h0M657.5,161.3h0M658.4,164.5h0M658.2,162.1h0M655.6,173.1h0M649.9,173.3h0M649.1,161.1h0M654.9,160.6h0M658.6,166.0h0M656.3,160.7h0M646.9,172.7h0M658.3,168.9h0M654.6,174.5h0M659.4,164.2h0M659.6,168.8h0M648.4,172.6h0M649.2,173.8h0M658.0,170.2h0M659.6,166.8h0M658.6,166.4h0M652.6,174.1h0M644.5,169.1h0M657.7,163.7h0M655.8,160.8h0M659.2,164.6h0M658.0,171.8h0M655.8,161.4h0M659.2,167.0h0M644.4,169.3h0M644.5,168.0h0M656.3,172.7h0M659.7,165.0h0M648.2,173.2h0M650.0,160.2h0M658.6,164.7h0M659.4,167.5h0M655.6,173.7h0M648.3,160.6h0M659.5,168.3h0M647.8,161.2h0M646.9,161.5h0M653.1,174.2h0M649.2,173.2h0M658.7,168.5h0M657.7,163.1h0M650.7,174.0h0M655.3,161.1h0M647.0,162.7h0M648.1,173.2h0M655.3,159.8h0M647.2,161.0h0M658.9,165.6h0M655.2,164.5h0M648.2,168.7h0M655.6,166.4h0M658.0,163.4h0M655.4,166.6h0M650.9,171.7h0M651.3,166.9h0M653.4,160.2h0M652.1,164.8h0M649.4,171.4h0M647.0,168.1h0M646.8,163.7h0M645.5,165.1h0M646.9,171.5h0M654.2,173.2h0M657.9,169.6h0M646.6,169.4h0M657.3,163.7h0M654.2,170.2h0M657.8,169.7h0M649.8,160.1h0M653.3,173.4h0M650.4,160.2h0M655.2,165.2h0M647.3,169.8h0M657.3,168.5h0M655.8,168.8h0M649.8,168.0h0M655.9,168.4h0M648.7,165.9h0M645.9,166.3h0M651.1,165.4h0M650.1,165.7h0M658.2,168.2h0M653.0,172.7h0M650.3,165.3h0M650.4,169.8h0M649.0,169.7h0M654.7,163.3h0M655.5,169.5h0M652.3,162.2h0M655.7,164.0h0M647.6,168.0h0M653.4,169.2h0M655.1,164.1h0M651.4,170.3h0M652.3,170.6h0M653.0,166.5h0M656.5,165.4h0M650.5,172.6h0M655.1,172.2h0M652.1,167.9h0M656.3,166.3h0M648.3,167.8h0M650.8,161.1h0M656.2,168.2h0M656.5,165.1h0M655.1,168.0h0M651.9,168.5h0M655.6,168.2h0M655.0,173.4h0M647.7,166.1h0M655.0,169.4h0M655.1,167.3h0M654.4,169.1h0M654.6,169.8h0M654.9,168.7h0M652.2,172.3h0M657.7,168.8h0M649.5,169.6h0M650.3,171.1h0M656.1,163.8h0M647.3,171.3h0M652.8,168.4h0M650.7,172.7h0M646.2,164.8h0M653.0,168.0h0M658.3,164.9h0M649.1,168.4h0M655.9,167.3h0M651.1,160.6h0M654.4,171.5h0M647.7,168.9h0M657.7,164.6h0M646.4,170.1h0M659.0,168.5h0M655.6,163.7h0M651.5,170.1h0M650.0,169.6h0M647.5,170.2h0" fill="none" stroke="#555" stroke-width="0.72" stroke-linecap="round"/>
<path d="M725.6,156.1h0M727.6,160.0h0M723.9,155.9h0M723.1,164.3h0M720.0,162.2h0M725.2,164.0h0M723.3,164.3h0M726.1,156.5h0M727.1,162.3h0M725.0,164.0h0M728.0,159.4h0M720.5,157.6h0M727.2,162.2h0M726.8,162.8h0M725.0,163.7h0M724.6,163.7h0M727.9,160.3h0M722.3,163.9h0M726.5,162.9h0M727.7,159.5h0M727.2,157.2h0M719.4,159.5h0M720.1,162.3h0M723.3,164.3h0M725.7,163.8h0M720.5,158.0h0M723.2,164.2h0M726.3,163.2h0M725.0,156.3h0M727.9,159.2h0M720.5,157.6h0M722.7,163.8h0M726.1,160.9h0M726.4,162.3h0M720.1,160.2h0M723.0,160.9h0M721.2,158.1h0M726.3,161.8h0M722.8,157.0h0M726.9,161.8h0M724.2,157.5h0M723.2,158.1h0M727.2,159.5h0M727.1,162.0h0M725.7,159.6h0M727.5,160.8h0M724.0,160.5h0M724.5,160.0h0M722.5,156.3h0M723.6,159.0h0M720.9,160.7h0M724.6,160.4h0M723.1,159.9h0M724.9,161.6h0M724.1,162.4h0M726.2,158.4h0M723.1,161.4h0M723.0,161.4h0M724.8,157.0h0M726.9,159.4h0M721.4,162.1h0M723.7,159.3h0M726.4,162.0h0M725.5,163.3h0M721.8,160.7h0M722.2,159.1h0M722.8,159.4h0M725.4,161.6h0M725.0,157.8h0M725.1,160.1h0M723.8,159.9h0M723.3,163.0h0M720.6,160.4h0M724.7,159.1h0M724.6,157.6h0M725.1,156.3h0M722.6,159.3h0M725.9,163.2h0M726.0,157.0h0M725.0,161.4h0M721.3,162.8h0M725.5,161.0h0M726.8,158.4h0M725.4,161.7h0M724.2,157.2h0M726.0,159.9h0M725.7,157.8h0M727.0,161.5h0M722.2,160.0h0M724.3,156.8h0M721.7,156.6h0M724.9,161.9h0M725.4,163.4h0M725.7,161.7h0M724.6,157.5h0M727.1,159.4h0M723.1,163.8h0M727.4,160.7h0M726.1,161.0h0M721.2,162.3h0M724.3,159.0h0M725.9,162.9h0M721.5,161.5h0M725.2,157.6h0M724.4,160.6h0M727.3,159.8h0M723.6,162.6h0M726.3,159.7h0M723.7,159.3h0M726.8,160.1h0M721.0,159.4h0M724.3,160.1h0M724.9,161.7h0M724.5,159.2h0" fill="none" stroke="#4a4a4a" stroke-width="0.75" stroke-linecap="round"/>
<path d="M721.2,174.0h0M713.8,169.0h0M713.7,169.8h0M722.9,172.1h0M720.6,165.6h0M721.2,166.4h0M721.8,173.2h0M720.6,174.9h0M714.7,173.8h0M722.6,171.7h0M713.6,172.3h0M713.3,171.5h0M716.6,164.9h0M713.6,170.3h0M716.2,175.0h0M723.4,168.1h0M723.2,172.0h0M723.5,169.8h0M714.6,173.2h0M713.8,171.1h0M722.7,171.7h0M718.4,174.7h0M723.1,172.7h0M717.3,175.4h0M720.4,174.2h0M723.2,170.1h0M723.3,171.8h0M714.3,173.0h0M723.1,172.0h0M720.8,174.1h0M722.9,170.0h0M715.2,173.5h0M714.2,166.4h0M715.5,174.0h0M713.3,170.5h0M715.7,173.9h0M720.7,173.9h0M713.5,169.1h0M721.9,170.6h0M721.6,166.2h0M716.7,171.8h0M718.8,172.7h0M718.0,165.5h0M716.1,172.8h0M718.2,170.7h0M722.3,168.9h0M723.1,169.6h0M718.8,172.8h0M718.9,172.0h0M720.9,166.0h0M719.5,166.2h0M721.7,167.8h0M714.0,170.6h0M716.1,173.8h0M714.4,173.0h0M717.5,165.2h0M721.0,173.6h0M720.8,172.7h0M719.4,174.4h0M718.5,172.6h0M716.2,171.2h0M715.4,173.8h0M721.4,167.9h0M721.8,170.4h0M720.3,170.0h0M716.6,173.2h0M719.1,166.4h0M718.3,173.7h0M722.0,167.7h0M714.4,171.2h0M721.4,168.8h0M722.7,168.3h0M721.7,168.7h0M719.5,171.2h0M718.4,171.2h0M720.4,169.4h0M721.7,169.8h0M716.6,170.8h0M719.2,172.6h0M722.5,170.5h0M721.5,170.4h0M714.4,169.7h0M718.2,171.5h0M717.7,174.4h0M719.7,171.9h0M717.2,166.5h0M717.9,169.0h0M719.4,169.6h0M722.2,172.2h0M719.0,169.1h0M720.0,171.8h0M720.1,171.5h0M718.6,170.9h0M718.5,167.4h0M719.8,173.1h0M718.3,170.6h0M714.3,168.7h0M721.4,168.7h0M714.2,171.9h0M714.7,172.8h0M722.4,169.5h0M716.5,172.5h0M719.8,170.7h0M719.5,172.0h0M721.4,166.7h0M718.4,172.5h0M720.1,172.7h0M716.7,172.1h0M715.4,170.5h0M716.2,169.9h0M720.3,171.3h0M719.2,170.1h0M716.4,168.8h0M714.7,173.0h0M721.3,174.0h0M722.1,171.1h0M721.2,173.5h0M716.9,166.2h0M718.8,170.6h0M719.0,168.7h0M721.7,170.1h0M722.0,171.6h0M720.4,171.1h0M719.5,174.1h0M713.3,170.2h0M715.9,167.0h0M718.3,171.8h0M715.9,168.9h0M718.2,171.1h0M716.4,166.3h0M714.9,170.8h0M719.5,169.0h0M722.9,168.1h0M717.9,173.2h0M719.5,174.7h0M719.0,168.5h0M716.9,165.5h0M713.6,170.4h0M718.1,170.0h0M720.0,172.0h0M719.7,167.7h0M720.6,166.4h0M716.5,171.8h0M717.8,173.1h0M719.0,168.8h0M718.3,174.9h0M719.6,173.2h0M717.6,166.4h0" fill="none" stroke="#4a4a4a" stroke-width="0.75" stroke-linecap="round"/>
<path d="M796.7,264.0h0M796.5,269.5h0M792.0,273.3h0M783.1,267.7h0M793.3,259.6h0M796.8,266.5h0M795.8,261.5h0M785.2,261.0h0M786.0,272.0h0M794.6,271.4h0M782.1,266.2h0M788.3,273.2h0M795.2,271.5h0M794.4,259.0h0M794.0,271.1h0M796.6,268.8h0M787.8,258.6h0M796.9,266.1h0M783.8,268.8h0M796.0,260.7h0M793.6,271.8h0M792.4,273.2h0M797.0,266.2h0M793.4,271.8h0M784.2,269.3h0M783.9,261.8h0M795.8,269.0h0M796.6,266.3h0M796.9,264.1h0M791.9,273.1h0M796.5,264.2h0M783.0,261.8h0M782.6,268.5h0M782.6,265.7h0M794.9,270.3h0M795.1,270.7h0M785.4,271.1h0M783.5,267.9h0M785.7,270.6h0M796.6,264.3h0M788.0,258.6h0M797.5,265.9h0M791.3,273.5h0M797.3,264.5h0M794.7,259.2h0M797.2,263.6h0M794.0,259.8h0M796.9,263.8h0M788.2,272.4h0M793.3,258.7h0M783.6,268.7h0M793.9,259.4h0M789.3,259.0h0M795.3,270.4h0M788.2,272.3h0M788.8,272.8h0M789.9,257.9h0M797.0,261.8h0M797.0,262.0h0M794.9,260.0h0M796.8,267.3h0M785.6,259.2h0M787.7,270.5h0M788.1,269.2h0M789.6,263.5h0M789.9,268.2h0M790.9,261.2h0M789.2,268.6h0M794.8,269.5h0M796.9,265.5h0M788.9,267.7h0M790.2,262.9h0M794.1,263.9h0M796.0,262.4h0M784.2,266.5h0M794.7,263.6h0M794.2,266.5h0M786.0,271.3h0M793.4,269.9h0M790.7,267.2h0M792.3,265.1h0M795.5,264.4h0M797.0,267.4h0M795.7,265.1h0M790.2,268.3h0M787.1,262.6h0M793.7,266.4h0M787.3,268.7h0M791.9,262.7h0M791.7,267.8h0M788.0,263.3h0M792.2,272.0h0M789.8,264.5h0M793.8,265.1h0M790.2,265.0h0M790.1,265.6h0M796.0,264.9h0M792.7,269.2h0M795.7,263.8h0M788.8,262.4h0M790.9,266.0h0M790.9,271.4h0M789.5,271.5h0M785.5,268.6h0M788.2,260.0h0M787.8,262.5h0M790.9,270.3h0M792.9,270.3h0M790.2,268.0h0M795.8,262.5h0M794.6,269.8h0M796.6,264.6h0M795.8,263.5h0M786.6,269.1h0M785.9,262.2h0M788.8,272.7h0M788.0,263.4h0M787.0,268.2h0M792.6,269.7h0M794.5,261.3h0M786.0,268.5h0M791.6,261.1h0M792.0,264.6h0M795.1,262.6h0M795.0,264.0h0M791.9,269.8h0M795.0,261.8h0M793.0,263.7h0M792.2,271.1h0M792.3,267.3h0M789.4,266.4h0M786.9,269.0h0M790.7,267.6h0M794.3,268.7h0M790.7,266.3h0M784.9,268.5h0M790.7,267.2h0M794.1,271.2h0M794.4,262.5h0M793.5,271.1h0M793.3,264.0h0M788.9,270.0h0M785.4,265.7h0" fill="none" stroke="#555" stroke-width="0.72" stroke-linecap="round"/>
<path d="M798.0,263.2h0M806.1,260.2h0M805.5,262.4h0M805.7,261.2h0M801.5,264.2h0M805.2,257.9h0M800.1,264.1h0M797.0,262.2h0M802.3,264.2h0M802.7,264.6h0M805.8,261.7h0M805.7,260.7h0M804.9,263.2h0M805.5,260.2h0M805.8,260.5h0M805.2,257.8h0M798.3,256.6h0M803.4,264.1h0M805.9,261.7h0M803.9,263.7h0M806.2,259.9h0M805.7,258.6h0M805.7,261.2h0M796.8,261.4h0M796.7,257.8h0M798.9,264.2h0M797.2,261.5h0M798.3,257.0h0M805.9,260.8h0M800.9,255.7h0M805.4,259.0h0M804.0,256.6h0M803.4,264.1h0M805.3,261.4h0M805.8,260.3h0M797.9,262.8h0M798.2,263.9h0M804.2,263.5h0M800.1,256.9h0M803.2,258.3h0M803.7,261.8h0M802.7,262.8h0M801.4,258.9h0M801.4,260.4h0M798.7,262.1h0M804.0,259.0h0M805.5,260.8h0M803.9,258.3h0M797.8,259.1h0M800.5,256.3h0M797.7,261.1h0M804.5,261.1h0M803.1,258.2h0M805.3,260.9h0M799.7,256.9h0M801.6,261.0h0M802.8,260.7h0M798.3,259.3h0M799.2,263.4h0M801.5,259.9h0M805.6,259.6h0M800.4,261.1h0M802.6,263.7h0M798.3,259.6h0M801.5,263.5h0M802.2,263.0h0M805.5,260.6h0M804.9,261.4h0M797.9,257.5h0M801.1,260.9h0M805.1,259.4h0M805.4,259.1h0M801.2,262.4h0M801.9,262.6h0M802.3,262.6h0M802.4,262.1h0M800.1,258.9h0M800.8,255.8h0M799.6,262.8h0M802.4,257.9h0M800.9,258.8h0M804.1,261.4h0M805.4,261.1h0M802.6,260.9h0M797.0,259.8h0M798.9,262.8h0M799.4,261.6h0M803.5,257.5h0M801.1,259.7h0M803.2,257.8h0M801.3,255.7h0M800.2,261.8h0M805.5,260.7h0M799.3,256.6h0M801.6,261.4h0M802.1,264.2h0M805.3,258.2h0M804.0,261.1h0M805.0,262.2h0M802.8,260.6h0M802.2,263.2h0M802.7,261.6h0M804.0,259.4h0M802.3,261.3h0M800.3,258.4h0M803.7,263.5h0M797.7,262.7h0M802.5,262.7h0M804.1,262.0h0M801.1,263.1h0M798.7,263.6h0M802.9,260.7h0M802.6,258.1h0M800.8,260.1h0M801.6,262.3h0M804.4,258.6h0M804.4,260.6h0M803.0,260.6h0M800.2,256.0h0M800.3,256.9h0M800.3,259.6h0M798.5,263.1h0M798.7,263.4h0M805.3,260.9h0M798.9,260.6h0M801.8,263.6h0M803.9,261.2h0M803.8,259.2h0M804.0,260.3h0M805.6,259.5h0M801.0,260.6h0M800.0,259.3h0M798.7,262.3h0M802.9,264.1h0M799.6,257.3h0M804.1,257.6h0M798.8,257.0h0M801.7,256.4h0" fill="none" stroke="#4a4a4a" stroke-width="0.75" stroke-linecap="round"/>
<path d="M806.1,268.4h0M813.3,270.5h0M810.6,270.9h0M815.8,267.7h0M806.9,269.6h0M814.0,270.0h0M815.9,265.2h0M815.1,266.3h0M808.9,271.3h0M808.5,271.1h0M815.1,268.1h0M813.5,270.6h0M815.3,267.3h0M813.7,270.4h0M806.7,263.4h0M814.9,269.2h0M815.5,264.5h0M810.7,271.0h0M812.8,270.7h0M813.1,270.4h0M811.5,261.1h0M806.2,268.1h0M808.1,270.7h0M806.3,267.6h0M813.9,262.7h0M806.6,263.2h0M805.8,267.4h0M813.1,270.4h0M806.0,268.9h0M806.3,265.2h0M814.1,269.1h0M805.2,266.7h0M805.7,266.2h0M814.7,263.1h0M811.0,270.8h0M814.5,262.9h0M809.4,271.4h0M809.4,267.8h0M811.1,268.1h0M814.3,263.0h0M809.1,268.0h0M811.5,269.8h0M813.7,262.9h0M809.6,266.7h0M810.6,267.2h0M807.7,263.2h0M808.4,267.0h0M806.5,266.6h0M811.9,262.4h0M814.3,267.8h0M815.0,266.7h0M811.5,268.4h0M808.8,265.3h0M813.9,262.7h0M811.8,264.6h0M808.4,270.4h0M814.4,267.4h0M807.0,268.9h0M811.6,267.7h0M815.1,266.2h0M806.0,265.9h0M808.0,264.8h0M811.7,264.9h0M808.1,265.2h0M808.8,267.0h0M812.4,270.5h0M814.1,265.6h0M808.6,268.1h0M811.0,267.0h0M809.9,265.7h0M811.5,268.7h0M810.6,263.2h0M813.7,263.3h0M813.2,264.1h0M811.9,265.9h0M810.3,264.8h0M812.9,264.7h0M807.0,265.4h0M809.7,265.2h0M807.7,268.3h0M813.3,265.7h0M806.2,265.3h0M814.9,266.7h0M812.9,264.9h0M811.1,268.0h0M810.7,270.6h0M807.4,264.3h0M814.0,266.9h0M811.2,266.4h0M814.0,269.6h0M810.2,266.4h0M813.7,264.0h0M809.9,266.9h0M813.2,266.8h0M809.8,263.0h0M810.5,267.3h0M812.4,268.8h0M812.8,268.8h0M806.9,268.0h0M806.9,265.4h0M809.7,263.8h0M807.5,269.4h0M809.3,264.9h0M811.2,261.9h0M812.8,269.4h0M807.8,266.7h0M814.0,265.2h0M809.5,264.9h0M813.8,269.6h0M814.4,265.5h0M809.8,261.6h0M815.0,264.2h0M814.0,268.4h0M807.9,267.0h0M811.0,262.1h0M812.0,269.9h0M811.8,268.0h0M806.9,263.8h0M812.7,266.4h0M809.2,267.4h0M808.3,264.8h0M808.6,268.8h0M814.9,267.5h0M812.8,263.9h0M806.6,268.1h0M812.9,264.0h0M813.1,267.6h0M814.5,268.5h0M809.2,264.1h0M808.5,266.2h0M814.2,266.7h0M812.1,262.7h0M809.1,267.8h0M814.8,266.9h0M814.9,267.1h0M808.9,270.7h0M809.9,266.3h0M812.8,266.4h0M808.7,268.7h0M810.4,270.1h0" fill="none" stroke="#4a4a4a" stroke-width="0.75" stroke-linecap="round"/>
<path d="M865.9,312.7h0M858.4,306.9h0M857.9,309.3h0M862.1,314.3h0M857.4,311.2h0M866.9,309.9h0M860.0,314.3h0M865.8,311.9h0M864.4,306.3h0M864.7,305.9h0M865.5,307.7h0M857.9,313.0h0M862.7,305.4h0M865.4,313.2h0M865.8,311.5h0M857.9,308.4h0M861.4,305.8h0M865.4,313.1h0M860.3,314.5h0M865.7,312.8h0M861.7,314.3h0M860.6,314.2h0M858.3,307.9h0M858.7,313.3h0M863.9,314.5h0M863.9,305.5h0M866.0,308.7h0M857.8,312.2h0M865.9,309.0h0M861.7,314.7h0M860.7,314.5h0M866.2,312.0h0M864.7,306.3h0M863.8,308.9h0M861.8,310.5h0M862.3,310.9h0M864.1,312.4h0M866.1,309.5h0M858.7,308.1h0M865.5,309.1h0M864.3,310.0h0M859.3,313.4h0M864.8,306.9h0M864.5,307.0h0M859.3,312.3h0M864.9,311.7h0M865.2,306.9h0M863.4,307.6h0M865.7,310.7h0M862.3,313.0h0M864.0,310.2h0M863.0,313.5h0M859.9,313.7h0M865.0,307.1h0M860.5,313.1h0M865.4,308.8h0M860.3,310.5h0M860.2,311.0h0M857.6,311.3h0M862.4,309.5h0M858.5,308.4h0M865.8,310.5h0M864.8,310.5h0M863.2,311.6h0M863.0,313.5h0M863.6,310.1h0M863.5,313.4h0M862.0,306.6h0M865.2,307.8h0M861.2,305.7h0M865.6,308.6h0M862.9,313.4h0M864.1,311.3h0M862.3,306.8h0M862.1,309.4h0M863.8,313.5h0M864.4,313.0h0M865.4,308.8h0M865.6,312.3h0M861.1,313.1h0M860.7,313.0h0M865.2,307.6h0M865.9,309.2h0M862.9,313.2h0M859.5,308.1h0M857.5,309.6h0M865.3,311.5h0M859.7,310.4h0M860.7,312.7h0M865.0,308.4h0M865.8,310.6h0M861.1,308.2h0M860.0,308.3h0M864.6,312.6h0M862.6,312.0h0M859.9,312.0h0M863.6,312.7h0M860.2,313.9h0M862.8,314.2h0M864.7,313.1h0M861.7,313.8h0M860.7,310.8h0M862.0,310.5h0M866.1,309.2h0M862.1,306.9h0M863.3,313.4h0M863.2,310.3h0M859.1,308.7h0M862.4,311.7h0M865.9,308.0h0M862.8,309.7h0M860.1,313.4h0M859.1,311.3h0M862.8,312.6h0M865.0,310.3h0M859.0,312.0h0M865.0,309.7h0M863.7,308.9h0M863.4,306.4h0M865.0,307.1h0M862.3,306.1h0M865.3,311.6h0M864.9,310.2h0M859.4,307.5h0M859.7,306.2h0M864.6,310.0h0M860.2,311.2h0M860.6,311.3h0M863.6,308.8h0" fill="none" stroke="#4a4a4a" stroke-width="0.75" stroke-linecap="round"/>
<path d="M866.7,323.0h0M853.7,325.0h0M867.3,325.3h0M857.4,316.3h0M863.9,316.5h0M865.7,319.1h0M854.0,325.6h0M854.9,317.7h0M867.2,324.9h0M853.7,327.0h0M852.7,323.6h0M855.9,315.7h0M860.6,329.2h0M862.7,315.7h0M862.9,316.6h0M861.3,329.7h0M861.0,315.4h0M863.2,329.1h0M858.9,329.0h0M867.1,324.9h0M858.6,329.2h0M866.0,319.4h0M859.2,329.0h0M860.4,329.5h0M852.0,322.3h0M861.0,329.9h0M854.9,317.3h0M866.2,317.6h0M864.9,317.5h0M861.7,329.9h0M865.1,318.1h0M860.5,314.6h0M866.0,318.2h0M855.7,328.6h0M853.0,319.5h0M866.2,318.2h0M866.6,318.3h0M854.4,327.8h0M860.2,329.6h0M857.2,316.0h0M857.4,328.7h0M867.0,323.8h0M863.1,329.0h0M860.5,329.5h0M867.9,322.9h0M862.1,329.1h0M866.0,319.1h0M864.0,328.9h0M864.1,316.3h0M859.2,315.5h0M855.3,328.1h0M861.0,329.2h0M866.6,324.5h0M866.4,319.8h0M864.9,327.5h0M854.7,317.7h0M856.8,325.5h0M861.5,318.4h0M864.8,324.1h0M862.9,316.5h0M857.9,328.2h0M863.3,316.7h0M866.6,323.5h0M860.3,323.1h0M858.3,328.2h0M864.4,325.8h0M856.3,324.7h0M864.5,327.2h0M861.8,323.6h0M860.0,323.0h0M861.3,327.1h0M862.8,324.2h0M867.0,321.9h0M855.5,327.8h0M860.1,323.1h0M852.9,323.2h0M859.9,328.6h0M856.2,326.2h0M864.1,322.4h0M855.2,323.7h0M861.2,326.7h0M858.2,325.7h0M859.2,321.0h0M862.7,327.6h0M861.9,319.5h0M864.3,320.7h0M860.4,328.6h0M863.9,328.0h0M858.2,326.6h0M864.2,323.9h0M859.2,324.6h0M861.1,320.5h0M866.2,319.7h0M861.6,326.3h0M858.4,321.1h0M864.5,323.1h0M856.7,324.9h0M865.2,318.5h0M863.0,318.3h0M866.7,323.5h0M859.1,326.5h0M858.0,321.0h0M862.7,322.9h0M863.4,324.8h0M858.0,326.5h0M863.5,321.0h0M863.5,320.9h0M861.7,328.2h0M866.4,325.3h0M857.2,328.8h0M861.4,327.1h0M861.4,323.4h0M866.2,319.7h0M865.9,321.9h0M855.5,324.0h0M857.5,324.1h0M857.6,321.9h0M856.7,320.5h0M863.6,328.2h0M863.1,326.7h0M864.1,319.9h0M856.6,321.4h0M859.6,329.1h0M860.6,321.4h0M859.9,322.0h0M861.0,326.1h0" fill="none" stroke="#555" stroke-width="0.72" stroke-linecap="round"/>
<path d="M888.0,328.6h0M885.2,327.9h0M874.7,316.9h0M893.9,319.7h0M886.7,308.3h0M874.6,323.1h0M879.9,327.8h0M879.6,310.4h0M886.5,327.7h0M890.4,325.9h0M884.6,328.2h0M892.5,323.1h0M894.2,321.7h0M889.3,309.7h0M887.3,308.6h0M876.2,326.3h0M892.9,317.1h0M886.2,328.9h0M875.2,313.2h0M878.1,327.5h0M880.0,310.2h0M892.3,322.7h0M874.0,316.0h0M878.3,327.0h0M892.8,318.6h0M882.6,328.3h0M874.7,320.5h0M894.4,319.1h0M893.6,316.9h0M878.9,310.0h0M883.2,329.2h0M883.2,329.4h0M884.1,328.5h0M878.2,326.3h0M892.1,323.8h0M894.0,319.0h0M874.4,319.9h0M881.4,328.1h0M889.8,311.7h0M885.9,329.2h0M893.3,320.8h0M894.3,321.7h0M886.8,310.0h0M873.4,315.7h0M883.9,327.8h0M874.5,320.0h0M886.9,309.6h0M892.6,313.9h0M891.8,325.9h0M887.6,309.4h0M893.1,316.5h0M892.5,321.7h0M891.9,325.3h0M894.5,318.7h0M881.1,328.9h0M882.6,328.6h0M893.7,319.0h0M893.6,318.3h0M883.0,328.7h0M873.2,316.3h0M874.1,320.2h0M893.7,320.9h0M891.2,324.4h0M891.0,312.4h0M888.8,310.1h0M894.6,320.3h0M888.7,310.9h0M874.4,316.9h0M884.4,308.9h0M892.7,321.7h0M892.2,313.7h0M890.1,325.8h0M893.3,322.3h0M874.7,314.4h0M876.4,326.1h0M894.3,317.8h0M885.7,327.7h0M892.4,314.9h0M893.1,317.2h0M885.8,320.9h0M885.1,324.5h0M883.4,317.8h0M889.0,311.8h0M885.1,312.0h0M876.4,322.4h0M882.9,323.2h0M889.7,314.8h0M890.5,323.5h0M885.4,314.4h0M887.9,321.9h0M882.2,312.8h0M880.2,322.8h0M891.6,323.6h0M887.7,323.5h0M884.0,325.7h0M893.1,319.9h0M883.6,310.3h0M884.0,317.6h0M882.3,324.8h0M890.3,313.4h0M886.5,325.4h0M887.5,313.5h0M883.2,317.2h0M890.0,325.5h0M886.3,318.3h0M889.6,316.3h0M890.1,321.3h0M884.3,326.5h0M890.1,320.2h0M889.6,326.5h0M892.0,319.6h0M879.2,319.7h0M891.3,322.1h0M880.2,317.3h0M886.2,321.7h0M890.2,322.2h0M887.1,324.7h0M882.1,323.0h0M890.4,324.0h0M883.1,323.0h0M876.7,313.5h0M886.9,322.4h0M889.5,321.5h0M881.8,321.0h0M890.1,314.1h0M889.0,313.8h0M878.6,326.9h0M890.1,312.3h0M889.1,326.7h0M885.6,314.2h0M885.2,322.6h0M889.3,320.4h0M889.3,321.4h0M886.8,321.7h0M891.7,319.3h0M884.3,319.8h0M889.0,315.5h0M893.0,321.8h0M886.8,315.3h0M884.1,320.7h0M891.4,319.3h0M883.5,316.5h0M885.8,316.7h0M879.1,316.9h0M886.2,316.8h0M881.7,322.3h0M882.3,316.6h0M879.8,318.4h0M891.6,317.0h0M878.8,322.4h0M886.4,324.2h0M875.7,319.8h0M885.6,315.9h0M890.2,316.4h0M889.4,312.0h0M889.6,324.6h0M877.8,321.1h0M876.9,325.6h0M887.3,314.6h0M882.2,322.3h0M884.1,322.2h0M883.2,328.2h0M891.0,320.1h0M876.6,320.4h0M889.8,319.5h0M884.0,322.6h0M892.6,319.7h0M884.8,322.3h0M893.2,316.7h0M877.3,321.7h0M875.6,321.6h0M877.8,322.3h0M889.9,322.3h0M881.5,327.0h0M881.9,319.0h0M892.9,316.5h0M881.6,319.8h0M884.1,323.9h0M879.8,317.4h0M890.1,317.3h0M881.9,325.3h0M890.3,323.5h0M891.6,313.9h0M890.2,313.0h0M886.4,320.8h0M878.3,317.8h0M882.1,328.2h0M879.0,324.7h0M880.4,325.1h0M887.3,316.8h0M874.3,320.6h0M890.5,314.5h0M887.9,316.8h0M880.3,325.3h0M880.9,321.3h0M878.4,322.4h0M889.1,326.1h0M888.1,322.0h0M879.2,323.9h0M883.7,324.7h0" fill="none" stroke="#555" stroke-width="0.72" stroke-linecap="round"/>
<path d="M706.3,567.9h0M704.2,558.1h0M707.8,567.1h0M706.7,567.4h0M710.0,566.6h0M709.6,566.9h0M704.6,566.5h0M711.7,561.9h0M701.9,564.6h0M704.9,557.5h0M703.6,558.7h0M710.3,559.2h0M702.5,563.9h0M701.7,562.5h0M711.5,565.3h0M706.7,558.0h0M711.2,565.3h0M701.9,561.4h0M702.4,564.4h0M702.5,563.2h0M712.0,560.5h0M704.2,566.5h0M706.5,567.9h0M703.4,565.6h0M711.8,562.0h0M711.4,560.6h0M711.6,563.5h0M707.6,567.2h0M707.0,567.3h0M705.6,567.7h0M707.2,557.1h0M703.4,566.5h0M711.2,560.1h0M711.3,560.6h0M706.6,567.3h0M705.3,558.1h0M702.5,564.0h0M708.1,557.7h0M702.7,564.7h0M709.9,566.3h0M704.7,558.4h0M704.1,558.2h0M706.2,563.0h0M709.9,564.5h0M710.1,562.1h0M711.1,560.6h0M705.5,566.6h0M704.5,561.0h0M707.7,559.4h0M707.1,562.5h0M703.4,565.2h0M709.5,561.4h0M711.0,561.7h0M705.9,562.9h0M702.8,564.9h0M707.5,561.9h0M704.1,562.1h0M707.2,564.7h0M707.1,567.1h0M702.7,560.9h0M703.2,564.5h0M705.6,563.9h0M704.7,560.7h0M704.5,566.0h0M705.3,566.6h0M709.6,565.4h0M709.0,561.1h0M704.8,560.0h0M709.2,566.8h0M706.4,562.5h0M704.9,564.0h0M704.8,565.5h0M702.7,560.9h0M711.4,562.5h0M707.6,564.3h0M707.9,561.3h0M704.6,560.9h0M710.8,564.5h0M707.2,566.9h0M704.2,561.9h0M707.0,561.3h0M707.4,566.1h0M705.6,562.7h0M709.7,563.7h0M706.6,565.2h0M706.2,562.8h0M706.2,563.3h0M711.1,560.1h0M708.9,562.1h0M708.2,560.0h0M708.7,561.9h0M705.7,566.4h0M707.1,564.0h0M707.5,564.5h0M709.2,562.6h0M707.7,566.0h0M707.1,562.3h0M710.2,561.4h0M709.2,563.2h0M709.9,560.7h0M706.0,561.3h0M704.8,566.8h0M705.9,564.8h0M711.4,562.9h0M709.2,561.9h0M709.9,561.3h0M704.6,564.2h0M706.1,566.5h0M708.8,560.3h0M703.8,565.2h0M706.9,562.0h0M704.5,558.4h0M711.5,564.1h0M709.7,558.6h0M709.0,566.6h0M709.3,561.4h0M704.3,562.4h0M710.6,565.4h0M711.9,562.9h0M709.2,560.4h0M711.4,563.0h0M707.4,562.0h0M705.8,563.1h0M706.7,562.1h0M709.6,563.2h0M707.6,558.1h0M709.2,562.0h0M707.9,558.6h0M702.7,562.5h0M710.2,563.3h0M708.1,565.0h0M702.7,564.7h0M710.4,562.4h0M707.5,562.7h0M711.2,562.2h0M704.2,565.0h0M705.7,563.5h0M702.7,561.4h0M705.6,566.8h0M710.5,561.6h0M710.5,559.3h0M708.1,561.5h0M709.6,561.7h0M707.6,566.3h0M708.7,563.8h0M707.0,559.3h0M706.3,564.9h0M706.8,566.5h0" fill="none" stroke="#4a4a4a" stroke-width="0.75" stroke-linecap="round"/>
<path d="M730.9,559.4h0M729.6,558.1h0M722.6,567.7h0M720.4,567.1h0M723.4,567.3h0M723.0,566.9h0M729.1,562.6h0M726.7,564.5h0M727.6,563.8h0M726.4,551.9h0M714.0,558.6h0M716.6,565.8h0M725.6,551.7h0M717.4,566.3h0M728.3,554.6h0M728.1,564.2h0M720.0,567.1h0M730.3,555.7h0M728.9,561.6h0M719.0,550.9h0M729.5,559.2h0M715.9,564.5h0M728.9,553.2h0M717.1,565.7h0M727.1,565.2h0M718.6,566.5h0M719.5,550.8h0M725.5,565.4h0M728.7,564.1h0M728.2,563.1h0M723.5,551.5h0M726.5,551.6h0M722.8,566.7h0M728.1,564.2h0M726.5,565.5h0M727.4,564.4h0M730.4,562.1h0M723.8,550.4h0M724.3,566.8h0M723.1,567.5h0M730.2,561.8h0M727.8,553.1h0M713.7,558.7h0M722.2,567.7h0M713.9,560.9h0M724.7,551.2h0M722.5,550.4h0M713.5,561.5h0M723.4,566.3h0M725.6,566.0h0M728.4,564.8h0M720.9,567.2h0M727.1,566.0h0M726.6,565.0h0M714.8,562.2h0M723.3,550.1h0M729.9,557.7h0M729.0,563.6h0M718.4,551.9h0M727.8,561.6h0M721.7,565.4h0M718.2,558.9h0M724.3,553.0h0M723.2,565.6h0M719.5,564.3h0M727.8,556.1h0M723.6,557.9h0M720.2,556.9h0M723.5,563.1h0M728.1,562.7h0M729.6,561.1h0M717.7,562.3h0M726.0,562.5h0M727.6,563.3h0M724.7,557.7h0M729.2,556.0h0M723.8,563.1h0M716.5,561.2h0M720.2,553.6h0M727.9,553.2h0M721.0,560.5h0M717.1,564.3h0M717.1,564.2h0M725.3,556.5h0M725.0,560.3h0M721.2,553.8h0M719.7,563.6h0M723.8,551.3h0M720.3,564.0h0M725.4,560.3h0M717.0,557.9h0M723.5,566.5h0M725.4,553.3h0M721.8,565.1h0M729.3,562.0h0M721.6,559.9h0M724.5,551.5h0M727.2,564.5h0M726.1,553.1h0M722.8,559.4h0M714.3,558.0h0M724.7,558.9h0M728.7,562.9h0M725.9,563.0h0M721.4,562.4h0M724.1,562.5h0M723.0,557.5h0M716.7,555.1h0M722.5,564.7h0M722.6,563.0h0M724.7,561.4h0M726.1,556.6h0M719.1,554.1h0M720.2,561.7h0M718.5,557.2h0M727.0,564.7h0M715.0,561.6h0M723.8,563.5h0M722.3,563.1h0M724.8,557.4h0M719.1,565.2h0M723.6,551.3h0M722.9,566.2h0M726.4,552.0h0M721.6,566.1h0M728.5,561.9h0M725.4,551.8h0M721.9,557.4h0M725.9,557.7h0M728.6,562.3h0M719.9,551.4h0M724.0,563.5h0M717.2,565.2h0M727.3,553.9h0M719.7,556.0h0M727.6,562.8h0M719.9,564.0h0M724.3,566.4h0M724.3,561.3h0M724.9,554.6h0M720.9,566.2h0M723.9,561.2h0M727.9,564.0h0M728.5,559.7h0M722.4,560.3h0M721.9,557.1h0" fill="none" stroke="#555" stroke-width="0.72" stroke-linecap="round"/>
<text class="t" x="271.85" y="151.88" font-size="8.75" textLength="17.5" lengthAdjust="spacingAndGlyphs">PVT.</text>
<text class="t" x="260.85" y="161.23" font-size="8.75" textLength="39.5" lengthAdjust="spacingAndGlyphs">TERRACE</text>
<text class="t" x="690.75" y="151.33" font-size="8.75" textLength="17.5" lengthAdjust="spacingAndGlyphs">PVT.</text>
<text class="t" x="679.75" y="160.93" font-size="8.75" textLength="39.5" lengthAdjust="spacingAndGlyphs">TERRACE</text>
<text class="t" x="76" y="228.13" font-size="8.75" textLength="17.5" lengthAdjust="spacingAndGlyphs">PVT.</text>
<text class="t" x="65.5" y="237.53" font-size="8.75" textLength="39.5" lengthAdjust="spacingAndGlyphs">TERRACE</text>
<text class="t" x="218.35" y="284.38" font-size="8.75" textLength="35.8" lengthAdjust="spacingAndGlyphs">MASTER</text>
<text class="t" x="213.1" y="293.63" font-size="8.75" textLength="46.3" lengthAdjust="spacingAndGlyphs">BEDROOM</text>
<text class="t" x="346.6" y="251.38" font-size="8.75" textLength="46.3" lengthAdjust="spacingAndGlyphs">BEDROOM</text>
<text class="t" x="511.85" y="267.53" font-size="8.75" textLength="46.3" lengthAdjust="spacingAndGlyphs">BEDROOM</text>
<text class="t" x="686.88" y="270.63" font-size="8.75" textLength="28.75" lengthAdjust="spacingAndGlyphs">LIVING</text>
<text class="t" x="808.25" y="293.13" font-size="8.75" textLength="34.7" lengthAdjust="spacingAndGlyphs">PRIVATE</text>
<text class="t" x="805.85" y="302.53" font-size="8.75" textLength="39.5" lengthAdjust="spacingAndGlyphs">TERRACE</text>
<text class="t" x="299.38" y="360.63" font-size="8.75" textLength="11.25" lengthAdjust="spacingAndGlyphs">CL</text>
<text class="t" x="343.88" y="349.33" font-size="8.75" textLength="11.25" lengthAdjust="spacingAndGlyphs">CL</text>
<text class="t" x="481.62" y="374.88" font-size="8.75" textLength="11.25" lengthAdjust="spacingAndGlyphs">CL</text>
<text class="t" x="549.62" y="346.13" font-size="8.75" textLength="11.25" lengthAdjust="spacingAndGlyphs">CL</text>
<text class="t" x="528.45" y="410.38" font-size="8.75" textLength="38.6" lengthAdjust="spacingAndGlyphs">POWDER</text>
<text class="t" x="372.75" y="444.88" font-size="8.75" textLength="22.5" lengthAdjust="spacingAndGlyphs">BATH</text>
<text class="t" x="433.25" y="478.63" font-size="8.75" textLength="38.3" lengthAdjust="spacingAndGlyphs">GALLERY</text>
<text class="t" x="541.1" y="498.43" font-size="8.75" textLength="27.8" lengthAdjust="spacingAndGlyphs">FOYER</text>
<text class="t" x="569.08" y="549.83" font-size="8.75" textLength="11.25" lengthAdjust="spacingAndGlyphs">CL</text>
<text class="t" x="366.88" y="573.63" font-size="8.75" textLength="11.25" lengthAdjust="spacingAndGlyphs">CL</text>
<text class="t" x="409.95" y="545.63" font-size="8.75" textLength="16.7" lengthAdjust="spacingAndGlyphs">W/D</text>
<text class="t" x="266.88" y="579.88" font-size="8.75" textLength="11.25" lengthAdjust="spacingAndGlyphs">CL</text>
<text class="t" x="207.6" y="455.63" font-size="8.75" textLength="35.8" lengthAdjust="spacingAndGlyphs">MASTER</text>
<text class="t" x="214.25" y="464.83" font-size="8.75" textLength="22.5" lengthAdjust="spacingAndGlyphs">BATH</text>
<text class="t" x="648.75" y="407.63" font-size="8.75" textLength="32.5" lengthAdjust="spacingAndGlyphs">DINING</text>
<text class="t" x="806.65" y="428.13" font-size="8.75" textLength="38.3" lengthAdjust="spacingAndGlyphs">KITCHEN</text>
<text class="t" x="793.7" y="358.93" font-size="8.75" textLength="14.2" lengthAdjust="spacingAndGlyphs">DW</text>
<text class="t" x="769.45" y="432.63" font-size="8.75" textLength="13.5" lengthAdjust="spacingAndGlyphs">WF</text>
<text class="t" x="779.65" y="498.93" font-size="8.75" textLength="15.7" lengthAdjust="spacingAndGlyphs">REF</text>
<text class="t" x="659.9" y="541.38" font-size="8.75" textLength="11.7" lengthAdjust="spacingAndGlyphs">UP</text>
<text class="t" x="685.9" y="538.88" font-size="8.75" textLength="34.7" lengthAdjust="spacingAndGlyphs">PRIVATE</text>
<text class="t" x="688.5" y="548.13" font-size="8.75" textLength="29.5" lengthAdjust="spacingAndGlyphs">STAIRS</text>
<g fill="none" stroke="#333" stroke-width=".85">
<rect x="1045.2" y="45.9" width="29.4" height="55.6"/>
<path d="M1045.2,45.9 A29,29 0 0 1 1045.2,101.5 M1074.6,45.9 A29,29 0 0 0 1074.6,101.5 M1045.2,58.6 A15.55,15.55 0 1 1 1045.2,88.8 M1074.6,58.6 A15.55,15.55 0 1 0 1074.6,88.8"/>
</g>
<text class="t" x="947.8" y="142.4" font-size="31.6" textLength="222.8" lengthAdjust="spacing" fill="#2e2e2e" stroke="#fff" stroke-width="1.1" paint-order="fill stroke">CRESCENT</text>
<text class="t" x="1035.5" y="162.5" font-size="7.7" textLength="50" lengthAdjust="spacing" fill="#333">NOB HILL</text>
<line x1="1034.75" y1="288.75" x2="1085.5" y2="288.75" stroke="#444" stroke-width="1"/>
<text class="t" x="969.6" y="336.25" font-size="19.7" textLength="180.1" lengthAdjust="spacing" fill="#2e2e2e" stroke="#fff" stroke-width="0.6" paint-order="fill stroke">PENTHOUSE ONE</text>
<text class="t" x="1033" y="348.75" font-size="7" textLength="55" lengthAdjust="spacing" fill="#555">LOWER LEVEL</text>
<text class="t" x="986" y="388.75" font-size="8.7" textLength="148.5" lengthAdjust="spacing" fill="#555">3 BEDROOMS  |  2 BATHROOMS</text>
<text class="t" x="1022.5" y="404.5" font-size="8.7" textLength="75.2" lengthAdjust="spacing" fill="#555">POWDER ROOM</text>
<text class="t" x="1008.5" y="437" font-size="8.7" textLength="103.5" lengthAdjust="spacing" fill="#555">INTERIOR 2,020 SQ FT</text>
<text class="t" x="1011.75" y="452.5" font-size="8.7" textLength="96.95" lengthAdjust="spacing" fill="#555">EXTERIOR 872 SQ FT</text>
<text class="t" x="1018.75" y="596.75" font-size="6.6" textLength="83.95" lengthAdjust="spacing" fill="#555">CALIFORNIA STREET</text>
<text class="t" font-size="6.6" fill="#555" textLength="65" lengthAdjust="spacing" transform="translate(1000.6,618.75) rotate(90)">POWELL STREET</text>
<g stroke-linejoin="miter">
<polygon points="1018.2,611.4 1056.2,611.4 1046.8,619.1 1032.4,629.3 1018.2,631" fill="#9a9a9a"/>
<ellipse cx="1033.5" cy="619.5" rx="9.5" ry="5.2" transform="rotate(-32 1033.5 619.5)" fill="#d8d8d8"/>
<polygon points="1058.3,710.4 1058.3,703.1 1066.0,706.2 1080.1,707.0 1092.7,703.1 1099.7,693.3 1100.8,673.7 1103.6,673.7 1103.6,710.4" fill="#808080"/>
<ellipse cx="1086.4" cy="694.7" rx="14.6" ry="8.4" transform="rotate(-30 1086.4 694.7)" fill="none" stroke="#9a9a9a" stroke-width="2.6" stroke-dasharray="52 22" stroke-dashoffset="-6"/>
<ellipse cx="1082.9" cy="695.8" rx="9.6" ry="3.9" transform="rotate(-30 1082.9 695.8)" fill="#8a8a8a"/>
<ellipse cx="1083.5" cy="696.4" rx="6.6" ry="1.6" transform="rotate(-30 1082.9 695.8)" fill="#f2f2f2"/>
<ellipse cx="1067.2" cy="691.9" rx="5.4" ry="1.5" transform="rotate(-55 1067.2 691.9)" fill="#a8a8a8"/>
<polygon points="1047.1,619.0 1054.1,612.0 1095.5,612.0 1095.5,621.1 1103.6,622.5 1103.6,633.7 1094.1,634.4 1093.4,638.6 1080.1,635.8 1063.2,642.1" fill="#161616"/>
<g fill="none" stroke="#222" stroke-width=".7">
<path d="M1018.2,611.4 L1103.4,611.4 L1103.4,711.4 L1052.8,711.4 L1052.8,702.5 L1018.2,702.5 Z"/>
<path d="M1018.2,631 L1032.4,629.3 L1033.4,631.7 L1046.8,622 M1064.4,642.6 L1058,645 L1057,643.5 L1050,647 L1051,649 L1038.5,655.5 L1036,660.5 L1018.2,661"/>
<path d="M1064.4,642.6 L1078,635.5 L1080,640 L1052.5,655.5 L1051.5,654 L1049.5,656 L1053.5,665.5 L1056.5,666.5 L1059.5,676 L1052.8,680.5 L1052.8,702.5"/>
<path d="M1080,640 L1103.4,634 M1052.5,655.5 L1060,672.5 L1084,659.5 L1082,655.5 L1092,650.5 L1094,653 L1103.4,646.5"/>
<path d="M1060,672.5 L1062.5,677.5 L1085,666 L1083,661.5 M1036,660.5 L1036,672.5 L1047.5,672.5 L1047.5,664"/>
<rect x="1039.5" y="665" width="6.8" height="7"/><path d="M1039.5,665 L1046.3,672 M1046.3,665 L1039.5,672"/>
<g transform="rotate(-27 1075 643.5)"><rect x="1071.5" y="640.5" width="7" height="6.5"/><path d="M1071.5,640.5 L1078.5,647 M1078.5,640.5 L1071.5,647"/></g>
<path d="M1021.5,661 L1021.5,691 A15,11 0 0 0 1051,691 L1052,680.5 M1021.5,691 L1051,691"/>
<path d="M1018.2,634 A2.4,3.2 0 0 0 1018.2,640.4 M1018.2,663.5 A2.4,3.2 0 0 0 1018.2,670" fill="#aaa"/>
<path d="M1059,611.4 A3,1.6 0 0 1 1065,611.4 M1087,611.4 A3,1.6 0 0 1 1093,611.4" fill="#aaa"/>
</g></g>
<text class="ts" x="1010.3" y="730" font-size="9" textLength="50" lengthAdjust="spacingAndGlyphs" fill="#333">Scale 5/16" = 1'</text>
<path d="M1013.75,738 H1036 M1035.5,739.8 H1058.5 M1058,738 H1103" fill="none" stroke="#666" stroke-width="1.8"/>
<text class="ts" x="1011.5" y="749.7" font-size="8" font-style="italic" fill="#444">0'</text>
<text class="ts" x="1033.5" y="749.7" font-size="8" font-style="italic" fill="#444">1'</text>
<text class="ts" x="1055.5" y="749.7" font-size="8" font-style="italic" fill="#444">2'</text>
<text class="ts" x="1099.5" y="749.7" font-size="8" font-style="italic" fill="#444">4'</text>
</g>
</svg>
</body></html>
